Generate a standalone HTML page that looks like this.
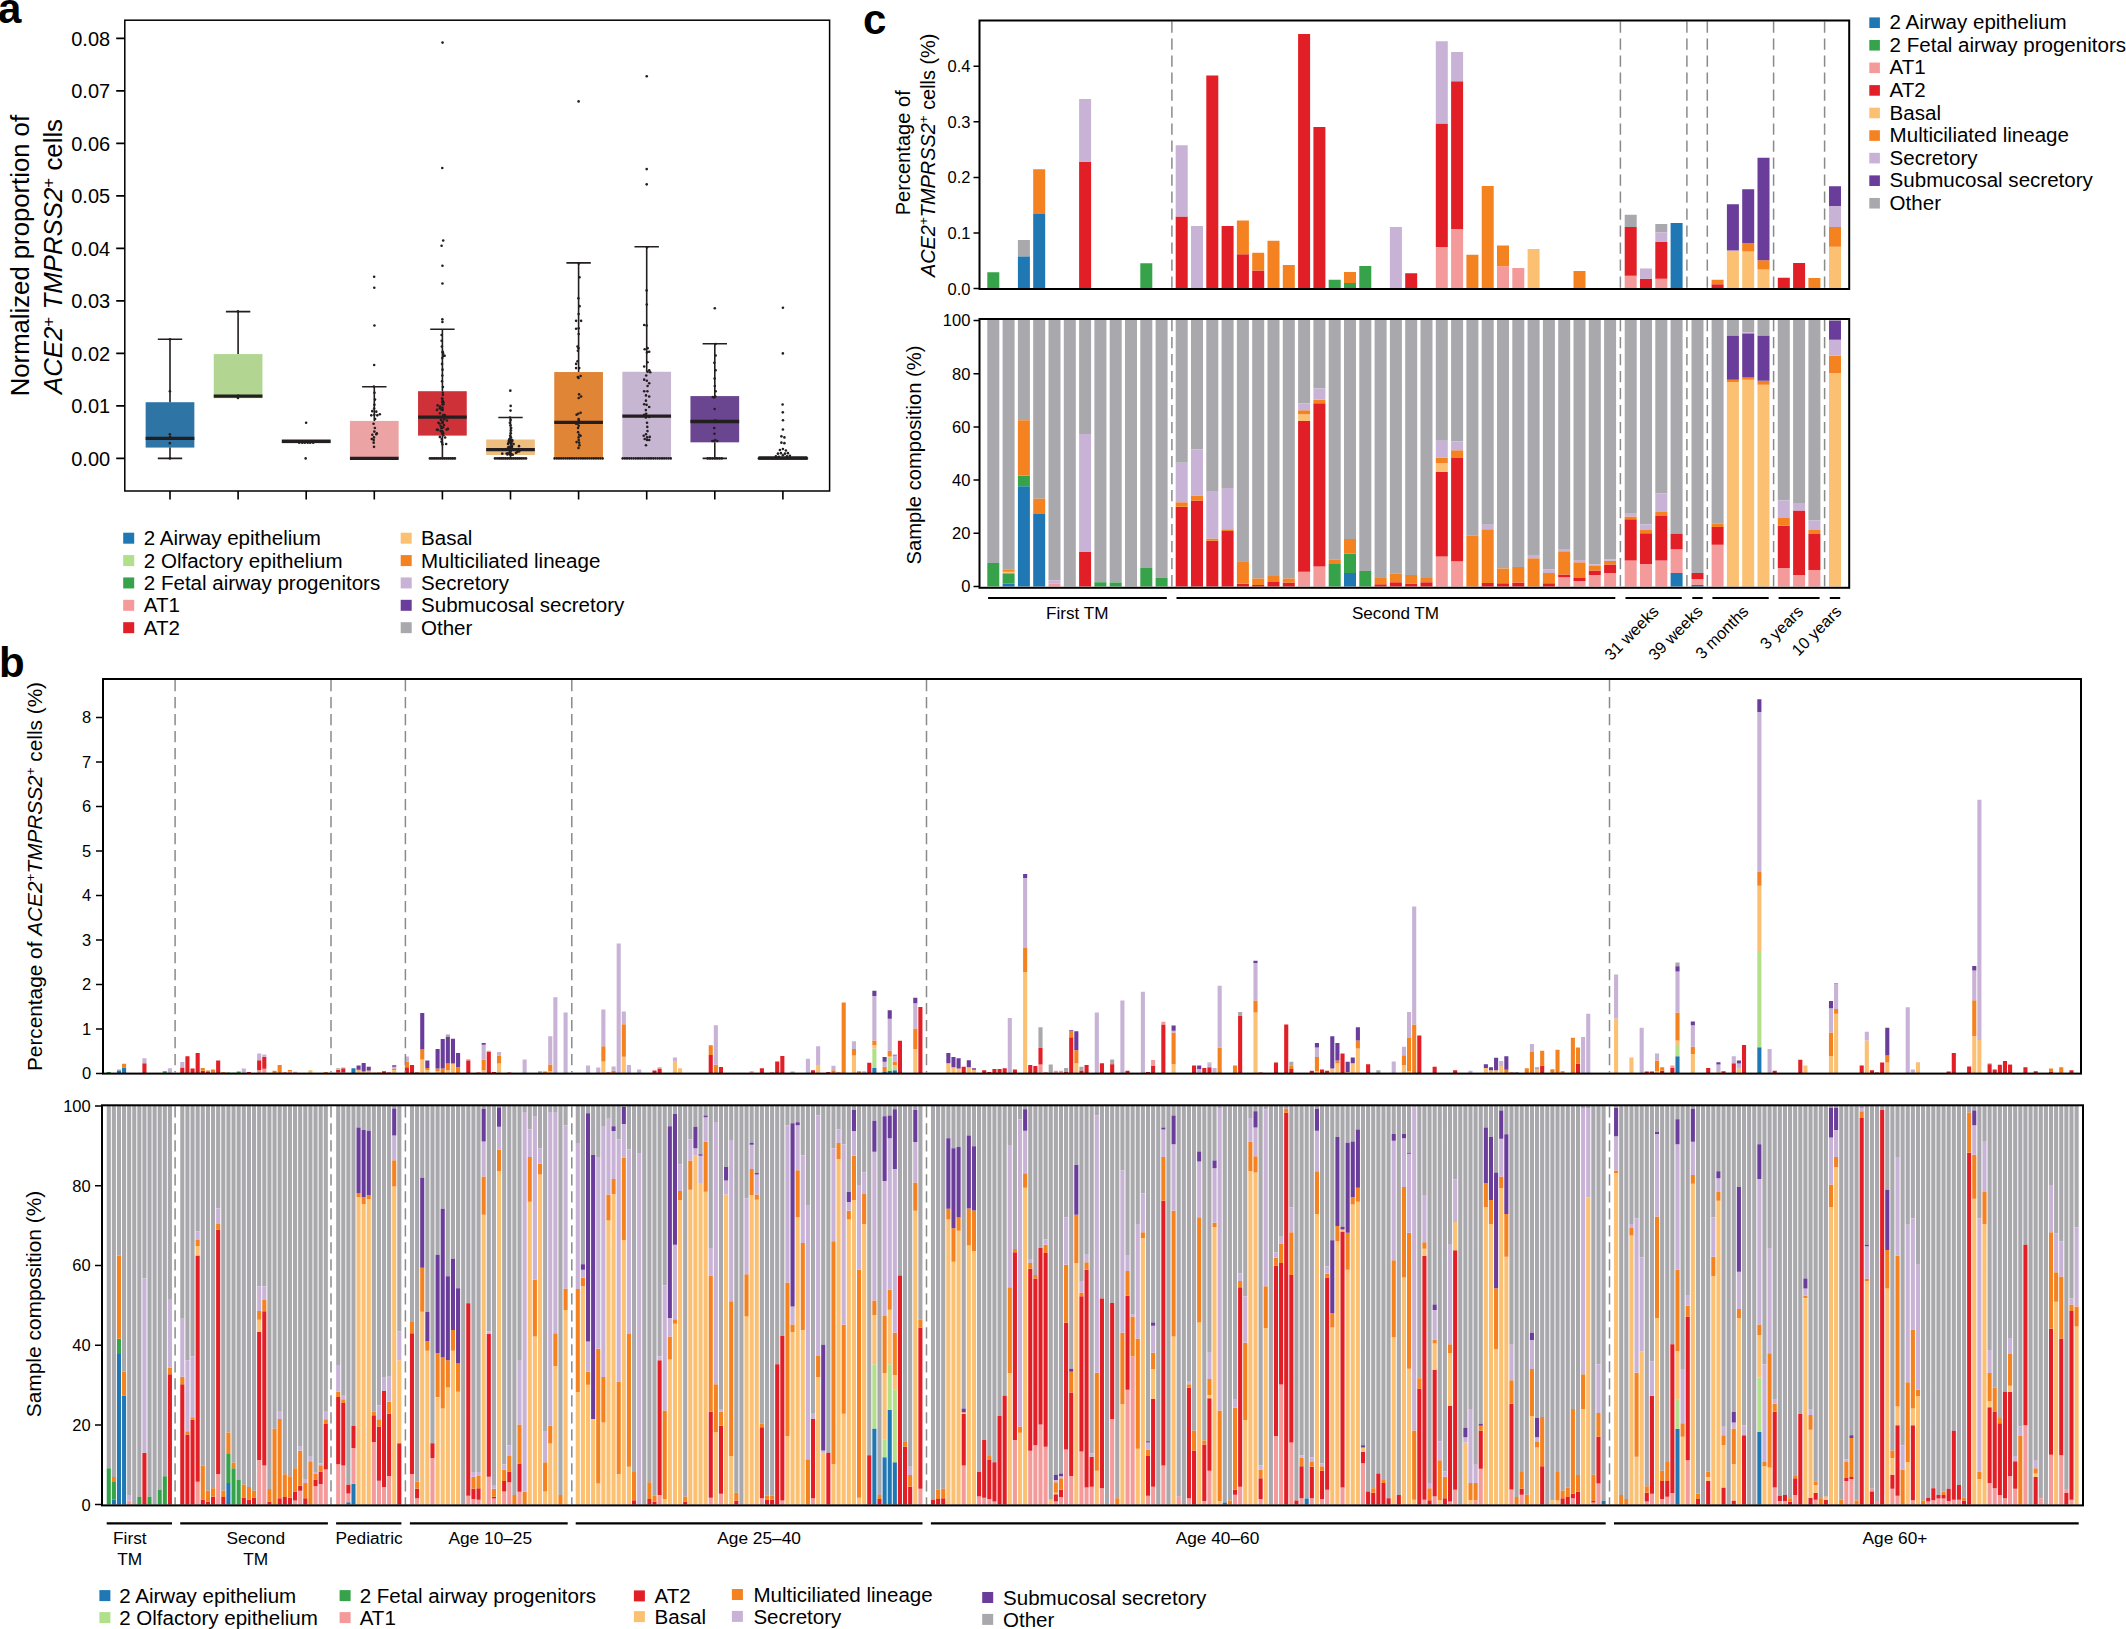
<!DOCTYPE html>
<html lang="en"><head><meta charset="utf-8"><title>Figure</title><style>html,body{margin:0;padding:0;background:#fff}svg{display:block}svg text{font-family:"Liberation Sans",Arial,Helvetica,sans-serif}</style></head><body>
<svg width="2126" height="1629" viewBox="0 0 2126 1629" fill="#000">
<rect width="2126" height="1629" fill="#fff"/>
<rect x="145.65" y="402.22" width="48.7" height="45.36" fill="#2e75a5"/>
<rect x="213.75" y="354.08" width="48.7" height="44.1" fill="#b2d692"/>
<rect x="281.85" y="439.5" width="48.7" height="3.67" fill="#419851"/>
<rect x="349.95" y="420.91" width="48.7" height="37.49" fill="#eca3a4"/>
<rect x="418.05" y="391.2" width="48.7" height="44.41" fill="#ce3238"/>
<rect x="486.15" y="439.5" width="48.7" height="15.49" fill="#eebe81"/>
<rect x="554.25" y="372.04" width="48.7" height="86.36" fill="#e08435"/>
<rect x="622.35" y="371.77" width="48.7" height="86.62" fill="#c7b6d2"/>
<rect x="690.45" y="396.08" width="48.7" height="46.25" fill="#6a4691"/>
<rect x="758.55" y="456.93" width="48.7" height="1.47" fill="#a9a9ad"/>
<path d="M170 402.22V339.22M157.8 339.22h24.4M170 447.58V458.4M157.8 458.4h24.4M238.1 354.08V311.61M225.9 311.61h24.4M374.3 420.91V386.68M362.1 386.68h24.4M442.4 391.2V329.25M430.2 329.25h24.4M442.4 435.61V458.4M430.2 458.4h24.4M510.5 439.5V417.45M498.3 417.45h24.4M510.5 454.99V458.4M498.3 458.4h24.4M578.6 372.04V262.84M566.4 262.84h24.4M646.7 371.77V246.82M634.5 246.82h24.4M714.8 396.08V343.79M702.6 343.79h24.4M714.8 442.33V458.4M702.6 458.4h24.4" fill="none" stroke="#231f20" stroke-width="1.6"/>
<path d="M145.65 438.45h48.7M213.75 396.19h48.7M281.85 441.28h48.7M349.95 458.4h48.7M418.05 417.13h48.7M486.15 449.58h48.7M554.25 422.33h48.7M622.35 416.08h48.7M690.45 421.49h48.7M758.55 457.98h48.7" fill="none" stroke="#231f20" stroke-width="3.3"/>
<g fill="#231f20"><circle cx="169.93" cy="391.2" r="1.3"/><circle cx="169.86" cy="434.25" r="1.3"/><circle cx="170.06" cy="436.88" r="1.3"/><circle cx="169.83" cy="443.17" r="1.3"/><circle cx="170.01" cy="339.22" r="1.3"/><circle cx="169.95" cy="458.4" r="1.3"/><circle cx="237.92" cy="398.02" r="1.3"/><circle cx="238.1" cy="395.92" r="1.3"/><circle cx="237.91" cy="311.4" r="1.3"/><circle cx="306.12" cy="422.7" r="1.3"/><circle cx="305.68" cy="458.4" r="1.3"/><circle cx="299.2" cy="442.65" r="1.3"/><circle cx="302.2" cy="442.65" r="1.3"/><circle cx="304.7" cy="442.65" r="1.3"/><circle cx="307.7" cy="442.65" r="1.3"/><circle cx="310.2" cy="442.65" r="1.3"/><circle cx="313.2" cy="442.65" r="1.3"/><circle cx="374.14" cy="276.75" r="1.3"/><circle cx="374.27" cy="287.77" r="1.3"/><circle cx="374.43" cy="325.57" r="1.3"/><circle cx="374.15" cy="364.95" r="1.3"/><circle cx="373.86" cy="386.47" r="1.3"/><circle cx="374.5" cy="392.77" r="1.3"/><circle cx="375.02" cy="399.6" r="1.3"/><circle cx="374.42" cy="404.85" r="1.3"/><circle cx="374.13" cy="408.52" r="1.3"/><circle cx="375.06" cy="419.02" r="1.3"/><circle cx="373.57" cy="423.75" r="1.3"/><circle cx="374.87" cy="427.95" r="1.3"/><circle cx="373.96" cy="437.4" r="1.3"/><circle cx="373.73" cy="440.02" r="1.3"/><circle cx="373.69" cy="442.65" r="1.3"/><circle cx="373.99" cy="446.85" r="1.3"/><circle cx="371.3" cy="415.35" r="1.3"/><circle cx="374.3" cy="414.82" r="1.3"/><circle cx="377.3" cy="415.35" r="1.3"/><circle cx="379.8" cy="414.3" r="1.3"/><circle cx="372.3" cy="411.15" r="1.3"/><circle cx="376.3" cy="411.67" r="1.3"/><circle cx="372.3" cy="434.77" r="1.3"/><circle cx="376.3" cy="434.25" r="1.3"/><circle cx="371.8" cy="438.97" r="1.3"/><circle cx="376.8" cy="433.2" r="1.3"/><circle cx="374.3" cy="431.62" r="1.3"/><circle cx="442.53" cy="42.6" r="1.3"/><circle cx="442.27" cy="168.07" r="1.3"/><circle cx="442.43" cy="265.72" r="1.3"/><circle cx="442.46" cy="283.57" r="1.3"/><circle cx="442.35" cy="319.27" r="1.3"/><circle cx="442.42" cy="321.9" r="1.3"/><circle cx="443.2" cy="240.52" r="1.3"/><circle cx="441.6" cy="245.77" r="1.3"/><circle cx="429.9" cy="458.4" r="1.3"/><circle cx="431.98" cy="458.4" r="1.3"/><circle cx="434.07" cy="458.4" r="1.3"/><circle cx="436.15" cy="458.4" r="1.3"/><circle cx="438.23" cy="458.4" r="1.3"/><circle cx="440.32" cy="458.4" r="1.3"/><circle cx="442.4" cy="458.4" r="1.3"/><circle cx="444.48" cy="458.4" r="1.3"/><circle cx="446.57" cy="458.4" r="1.3"/><circle cx="448.65" cy="458.4" r="1.3"/><circle cx="450.73" cy="458.4" r="1.3"/><circle cx="452.82" cy="458.4" r="1.3"/><circle cx="454.9" cy="458.4" r="1.3"/><circle cx="441.61" cy="335.02" r="1.3"/><circle cx="441.61" cy="340.8" r="1.3"/><circle cx="441.87" cy="346.57" r="1.3"/><circle cx="442.72" cy="352.35" r="1.3"/><circle cx="442.27" cy="358.12" r="1.3"/><circle cx="442.07" cy="363.9" r="1.3"/><circle cx="442.55" cy="369.67" r="1.3"/><circle cx="442.32" cy="375.45" r="1.3"/><circle cx="442.04" cy="381.22" r="1.3"/><circle cx="442.93" cy="387" r="1.3"/><circle cx="442.76" cy="392.77" r="1.3"/><circle cx="441.94" cy="398.55" r="1.3"/><circle cx="442.53" cy="404.32" r="1.3"/><circle cx="442.45" cy="410.1" r="1.3"/><circle cx="443.08" cy="415.88" r="1.3"/><circle cx="442.81" cy="421.65" r="1.3"/><circle cx="442.02" cy="427.42" r="1.3"/><circle cx="443.26" cy="433.2" r="1.3"/><circle cx="441.71" cy="438.97" r="1.3"/><circle cx="442.48" cy="431.91" r="1.3"/><circle cx="440.68" cy="430.98" r="1.3"/><circle cx="439.89" cy="436.89" r="1.3"/><circle cx="437.96" cy="429.88" r="1.3"/><circle cx="440.6" cy="425.91" r="1.3"/><circle cx="446.66" cy="429.6" r="1.3"/><circle cx="436.87" cy="429.79" r="1.3"/><circle cx="443.96" cy="425" r="1.3"/><circle cx="441.85" cy="431.18" r="1.3"/><circle cx="441.49" cy="428.19" r="1.3"/><circle cx="447.97" cy="428.91" r="1.3"/><circle cx="442.16" cy="433.66" r="1.3"/><circle cx="442.09" cy="432.34" r="1.3"/><circle cx="441.84" cy="431.34" r="1.3"/><circle cx="443.18" cy="435.19" r="1.3"/><circle cx="443.1" cy="427.32" r="1.3"/><circle cx="442.44" cy="422.92" r="1.3"/><circle cx="444.79" cy="415.13" r="1.3"/><circle cx="439.52" cy="423.43" r="1.3"/><circle cx="443.35" cy="415" r="1.3"/><circle cx="443.67" cy="415.67" r="1.3"/><circle cx="440.94" cy="419.91" r="1.3"/><circle cx="446.91" cy="420.51" r="1.3"/><circle cx="438.38" cy="422.69" r="1.3"/><circle cx="442.6" cy="422.42" r="1.3"/><circle cx="444.14" cy="419.18" r="1.3"/><circle cx="442.38" cy="407.59" r="1.3"/><circle cx="442.62" cy="409.38" r="1.3"/><circle cx="436.97" cy="409.9" r="1.3"/><circle cx="440" cy="406.52" r="1.3"/><circle cx="439.74" cy="408.36" r="1.3"/><circle cx="439.97" cy="413.21" r="1.3"/><circle cx="443.32" cy="404.33" r="1.3"/><circle cx="437.6" cy="405.4" r="1.3"/><circle cx="441.5" cy="409.66" r="1.3"/><circle cx="442.9" cy="394.95" r="1.3"/><circle cx="443.52" cy="402.46" r="1.3"/><circle cx="442.91" cy="401.14" r="1.3"/><circle cx="442.44" cy="398.81" r="1.3"/><circle cx="442.41" cy="401.29" r="1.3"/><circle cx="442.13" cy="401.94" r="1.3"/><circle cx="442.67" cy="351.76" r="1.3"/><circle cx="443.13" cy="353.81" r="1.3"/><circle cx="443.38" cy="355.91" r="1.3"/><circle cx="444.63" cy="355.78" r="1.3"/><circle cx="445.11" cy="437.45" r="1.3"/><circle cx="441.56" cy="441.61" r="1.3"/><circle cx="442.49" cy="444.47" r="1.3"/><circle cx="442.05" cy="442.58" r="1.3"/><circle cx="446.14" cy="444" r="1.3"/><circle cx="510.31" cy="390.67" r="1.3"/><circle cx="510.68" cy="405.9" r="1.3"/><circle cx="510.51" cy="410.62" r="1.3"/><circle cx="495" cy="458.4" r="1.3"/><circle cx="497.07" cy="458.4" r="1.3"/><circle cx="499.13" cy="458.4" r="1.3"/><circle cx="501.2" cy="458.4" r="1.3"/><circle cx="503.27" cy="458.4" r="1.3"/><circle cx="505.33" cy="458.4" r="1.3"/><circle cx="507.4" cy="458.4" r="1.3"/><circle cx="509.47" cy="458.4" r="1.3"/><circle cx="511.53" cy="458.4" r="1.3"/><circle cx="513.6" cy="458.4" r="1.3"/><circle cx="515.67" cy="458.4" r="1.3"/><circle cx="517.73" cy="458.4" r="1.3"/><circle cx="519.8" cy="458.4" r="1.3"/><circle cx="521.87" cy="458.4" r="1.3"/><circle cx="523.93" cy="458.4" r="1.3"/><circle cx="526" cy="458.4" r="1.3"/><circle cx="510.01" cy="417.45" r="1.3"/><circle cx="510.56" cy="420.07" r="1.3"/><circle cx="509.84" cy="422.7" r="1.3"/><circle cx="510.54" cy="425.32" r="1.3"/><circle cx="511.17" cy="427.95" r="1.3"/><circle cx="511.01" cy="430.57" r="1.3"/><circle cx="510.77" cy="433.2" r="1.3"/><circle cx="510.17" cy="435.82" r="1.3"/><circle cx="510.31" cy="438.45" r="1.3"/><circle cx="510.03" cy="441.07" r="1.3"/><circle cx="510.88" cy="443.7" r="1.3"/><circle cx="510.55" cy="446.32" r="1.3"/><circle cx="510.89" cy="448.95" r="1.3"/><circle cx="510.26" cy="451.57" r="1.3"/><circle cx="510.11" cy="454.2" r="1.3"/><circle cx="517.32" cy="451.94" r="1.3"/><circle cx="509.85" cy="451.97" r="1.3"/><circle cx="510.34" cy="451.91" r="1.3"/><circle cx="508" cy="453.33" r="1.3"/><circle cx="511.32" cy="454.09" r="1.3"/><circle cx="510.65" cy="454.45" r="1.3"/><circle cx="507.4" cy="454.55" r="1.3"/><circle cx="502.3" cy="453.66" r="1.3"/><circle cx="519.19" cy="451.35" r="1.3"/><circle cx="509.85" cy="454.05" r="1.3"/><circle cx="510.84" cy="454.73" r="1.3"/><circle cx="512.79" cy="454.81" r="1.3"/><circle cx="515.93" cy="452.83" r="1.3"/><circle cx="506.57" cy="453.51" r="1.3"/><circle cx="510.81" cy="448.31" r="1.3"/><circle cx="509.54" cy="448.28" r="1.3"/><circle cx="511.31" cy="447.23" r="1.3"/><circle cx="506.58" cy="449.04" r="1.3"/><circle cx="511.03" cy="450.3" r="1.3"/><circle cx="508.41" cy="447.69" r="1.3"/><circle cx="508.57" cy="446.97" r="1.3"/><circle cx="511.98" cy="447.07" r="1.3"/><circle cx="511.3" cy="443.04" r="1.3"/><circle cx="511.96" cy="446.06" r="1.3"/><circle cx="511.13" cy="442.1" r="1.3"/><circle cx="508.81" cy="442.51" r="1.3"/><circle cx="508.86" cy="441.7" r="1.3"/><circle cx="508.02" cy="443.97" r="1.3"/><circle cx="518.98" cy="446.16" r="1.3"/><circle cx="511.26" cy="443.44" r="1.3"/><circle cx="513.62" cy="444.09" r="1.3"/><circle cx="509.12" cy="442.27" r="1.3"/><circle cx="510.91" cy="437.26" r="1.3"/><circle cx="512.13" cy="440.06" r="1.3"/><circle cx="509.04" cy="440.34" r="1.3"/><circle cx="509.62" cy="439.4" r="1.3"/><circle cx="512.24" cy="440.91" r="1.3"/><circle cx="509.4" cy="439.19" r="1.3"/><circle cx="578.6" cy="101.4" r="1.3"/><circle cx="554.6" cy="458.4" r="1.3"/><circle cx="556.78" cy="458.4" r="1.3"/><circle cx="558.96" cy="458.4" r="1.3"/><circle cx="561.15" cy="458.4" r="1.3"/><circle cx="563.33" cy="458.4" r="1.3"/><circle cx="565.51" cy="458.4" r="1.3"/><circle cx="567.69" cy="458.4" r="1.3"/><circle cx="569.87" cy="458.4" r="1.3"/><circle cx="572.05" cy="458.4" r="1.3"/><circle cx="574.24" cy="458.4" r="1.3"/><circle cx="576.42" cy="458.4" r="1.3"/><circle cx="578.6" cy="458.4" r="1.3"/><circle cx="580.78" cy="458.4" r="1.3"/><circle cx="582.96" cy="458.4" r="1.3"/><circle cx="585.15" cy="458.4" r="1.3"/><circle cx="587.33" cy="458.4" r="1.3"/><circle cx="589.51" cy="458.4" r="1.3"/><circle cx="591.69" cy="458.4" r="1.3"/><circle cx="593.87" cy="458.4" r="1.3"/><circle cx="596.05" cy="458.4" r="1.3"/><circle cx="598.24" cy="458.4" r="1.3"/><circle cx="600.42" cy="458.4" r="1.3"/><circle cx="602.6" cy="458.4" r="1.3"/><circle cx="578.78" cy="263.62" r="1.3"/><circle cx="579.49" cy="277.27" r="1.3"/><circle cx="578.43" cy="298.27" r="1.3"/><circle cx="579.52" cy="306.15" r="1.3"/><circle cx="578.6" cy="314.02" r="1.3"/><circle cx="578.67" cy="328.2" r="1.3"/><circle cx="578.65" cy="333.97" r="1.3"/><circle cx="577.54" cy="346.57" r="1.3"/><circle cx="578.47" cy="348.15" r="1.3"/><circle cx="577.9" cy="350.77" r="1.3"/><circle cx="577.51" cy="361.27" r="1.3"/><circle cx="579.26" cy="368.1" r="1.3"/><circle cx="577.88" cy="377.02" r="1.3"/><circle cx="578.54" cy="378.07" r="1.3"/><circle cx="579.1" cy="394.35" r="1.3"/><circle cx="578.72" cy="398.02" r="1.3"/><circle cx="578.22" cy="413.77" r="1.3"/><circle cx="578.64" cy="419.02" r="1.3"/><circle cx="578.72" cy="420.6" r="1.3"/><circle cx="579.23" cy="422.17" r="1.3"/><circle cx="577.73" cy="423.75" r="1.3"/><circle cx="578.73" cy="425.85" r="1.3"/><circle cx="578.05" cy="427.95" r="1.3"/><circle cx="578.11" cy="432.15" r="1.3"/><circle cx="579.2" cy="434.77" r="1.3"/><circle cx="578.62" cy="437.4" r="1.3"/><circle cx="578.74" cy="440.02" r="1.3"/><circle cx="579.17" cy="442.65" r="1.3"/><circle cx="579.51" cy="445.27" r="1.3"/><circle cx="578.48" cy="447.9" r="1.3"/><circle cx="576.1" cy="320.85" r="1.3"/><circle cx="576.1" cy="328.72" r="1.3"/><circle cx="576.1" cy="363.9" r="1.3"/><circle cx="576.1" cy="368.1" r="1.3"/><circle cx="581.1" cy="320.85" r="1.3"/><circle cx="580.6" cy="375.97" r="1.3"/><circle cx="581.1" cy="396.45" r="1.3"/><circle cx="580.6" cy="412.72" r="1.3"/><circle cx="576.6" cy="414.82" r="1.3"/><circle cx="581.1" cy="422.7" r="1.3"/><circle cx="576.1" cy="423.75" r="1.3"/><circle cx="580.6" cy="435.82" r="1.3"/><circle cx="576.6" cy="442.12" r="1.3"/><circle cx="646.75" cy="76.2" r="1.3"/><circle cx="646.7" cy="169.12" r="1.3"/><circle cx="646.7" cy="184.35" r="1.3"/><circle cx="622.7" cy="458.4" r="1.3"/><circle cx="624.88" cy="458.4" r="1.3"/><circle cx="627.06" cy="458.4" r="1.3"/><circle cx="629.25" cy="458.4" r="1.3"/><circle cx="631.43" cy="458.4" r="1.3"/><circle cx="633.61" cy="458.4" r="1.3"/><circle cx="635.79" cy="458.4" r="1.3"/><circle cx="637.97" cy="458.4" r="1.3"/><circle cx="640.15" cy="458.4" r="1.3"/><circle cx="642.34" cy="458.4" r="1.3"/><circle cx="644.52" cy="458.4" r="1.3"/><circle cx="646.7" cy="458.4" r="1.3"/><circle cx="648.88" cy="458.4" r="1.3"/><circle cx="651.06" cy="458.4" r="1.3"/><circle cx="653.25" cy="458.4" r="1.3"/><circle cx="655.43" cy="458.4" r="1.3"/><circle cx="657.61" cy="458.4" r="1.3"/><circle cx="659.79" cy="458.4" r="1.3"/><circle cx="661.97" cy="458.4" r="1.3"/><circle cx="664.15" cy="458.4" r="1.3"/><circle cx="666.34" cy="458.4" r="1.3"/><circle cx="668.52" cy="458.4" r="1.3"/><circle cx="670.7" cy="458.4" r="1.3"/><circle cx="647.09" cy="247.35" r="1.3"/><circle cx="646.6" cy="290.4" r="1.3"/><circle cx="646.77" cy="304.57" r="1.3"/><circle cx="646.66" cy="325.57" r="1.3"/><circle cx="647.58" cy="348.15" r="1.3"/><circle cx="647.1" cy="352.35" r="1.3"/><circle cx="647.45" cy="362.32" r="1.3"/><circle cx="647.58" cy="371.77" r="1.3"/><circle cx="646.22" cy="375.45" r="1.3"/><circle cx="646.82" cy="380.7" r="1.3"/><circle cx="647.59" cy="385.95" r="1.3"/><circle cx="647.38" cy="391.2" r="1.3"/><circle cx="645.97" cy="395.4" r="1.3"/><circle cx="645.94" cy="400.65" r="1.3"/><circle cx="646.58" cy="404.85" r="1.3"/><circle cx="645.85" cy="410.1" r="1.3"/><circle cx="646.18" cy="413.77" r="1.3"/><circle cx="645.85" cy="417.45" r="1.3"/><circle cx="647.04" cy="422.7" r="1.3"/><circle cx="647.27" cy="426.9" r="1.3"/><circle cx="647.49" cy="431.1" r="1.3"/><circle cx="646.01" cy="434.25" r="1.3"/><circle cx="647.13" cy="437.4" r="1.3"/><circle cx="647.02" cy="440.02" r="1.3"/><circle cx="645.99" cy="445.27" r="1.3"/><circle cx="644.2" cy="325.05" r="1.3"/><circle cx="644.7" cy="349.2" r="1.3"/><circle cx="649.2" cy="351.82" r="1.3"/><circle cx="644.2" cy="366.52" r="1.3"/><circle cx="649.2" cy="370.2" r="1.3"/><circle cx="650.2" cy="372.3" r="1.3"/><circle cx="644.2" cy="379.65" r="1.3"/><circle cx="649.2" cy="383.32" r="1.3"/><circle cx="644.2" cy="391.2" r="1.3"/><circle cx="649.2" cy="396.45" r="1.3"/><circle cx="644.2" cy="404.32" r="1.3"/><circle cx="649.2" cy="406.95" r="1.3"/><circle cx="644.2" cy="414.82" r="1.3"/><circle cx="649.2" cy="416.92" r="1.3"/><circle cx="643.7" cy="435.82" r="1.3"/><circle cx="649.7" cy="436.88" r="1.3"/><circle cx="644.7" cy="438.97" r="1.3"/><circle cx="649.2" cy="440.02" r="1.3"/><circle cx="714.8" cy="308.25" r="1.3"/><circle cx="707.8" cy="458.4" r="1.3"/><circle cx="710.13" cy="458.4" r="1.3"/><circle cx="712.47" cy="458.4" r="1.3"/><circle cx="714.8" cy="458.4" r="1.3"/><circle cx="717.13" cy="458.4" r="1.3"/><circle cx="719.47" cy="458.4" r="1.3"/><circle cx="721.8" cy="458.4" r="1.3"/><circle cx="715.49" cy="343.95" r="1.3"/><circle cx="715.64" cy="355.5" r="1.3"/><circle cx="714.3" cy="362.85" r="1.3"/><circle cx="715.61" cy="370.2" r="1.3"/><circle cx="714.62" cy="378.6" r="1.3"/><circle cx="714.78" cy="385.95" r="1.3"/><circle cx="715.68" cy="391.2" r="1.3"/><circle cx="715.4" cy="396.45" r="1.3"/><circle cx="714.19" cy="397.5" r="1.3"/><circle cx="714.68" cy="409.05" r="1.3"/><circle cx="714.83" cy="420.6" r="1.3"/><circle cx="714.51" cy="421.65" r="1.3"/><circle cx="714.25" cy="427.95" r="1.3"/><circle cx="714.47" cy="433.72" r="1.3"/><circle cx="715.2" cy="440.02" r="1.3"/><circle cx="713.94" cy="441.07" r="1.3"/><circle cx="712.3" cy="441.07" r="1.3"/><circle cx="717.3" cy="441.07" r="1.3"/><circle cx="712.8" cy="396.97" r="1.3"/><circle cx="716.8" cy="421.12" r="1.3"/><circle cx="782.93" cy="307.72" r="1.3"/><circle cx="782.86" cy="353.4" r="1.3"/><circle cx="782.61" cy="404.53" r="1.3"/><circle cx="782.8" cy="412.36" r="1.3"/><circle cx="782.97" cy="420.28" r="1.3"/><circle cx="782.91" cy="429.52" r="1.3"/><circle cx="781.4" cy="436.35" r="1.3"/><circle cx="784.4" cy="437.4" r="1.3"/><circle cx="781.4" cy="442.65" r="1.3"/><circle cx="784.4" cy="443.17" r="1.3"/><circle cx="782.9" cy="448.95" r="1.3"/><circle cx="779.9" cy="450" r="1.3"/><circle cx="785.9" cy="450.52" r="1.3"/><circle cx="777.9" cy="453.67" r="1.3"/><circle cx="780.9" cy="453.15" r="1.3"/><circle cx="784.9" cy="453.67" r="1.3"/><circle cx="787.9" cy="453.15" r="1.3"/><circle cx="775.9" cy="456.3" r="1.3"/><circle cx="789.9" cy="455.77" r="1.3"/><circle cx="782.9" cy="455.25" r="1.3"/><circle cx="778.9" cy="456.82" r="1.3"/><circle cx="786.9" cy="456.3" r="1.3"/><circle cx="758.9" cy="458.4" r="1.3"/><circle cx="760.56" cy="458.4" r="1.3"/><circle cx="762.21" cy="458.4" r="1.3"/><circle cx="763.87" cy="458.4" r="1.3"/><circle cx="765.52" cy="458.4" r="1.3"/><circle cx="767.18" cy="458.4" r="1.3"/><circle cx="768.83" cy="458.4" r="1.3"/><circle cx="770.49" cy="458.4" r="1.3"/><circle cx="772.14" cy="458.4" r="1.3"/><circle cx="773.8" cy="458.4" r="1.3"/><circle cx="775.45" cy="458.4" r="1.3"/><circle cx="777.11" cy="458.4" r="1.3"/><circle cx="778.76" cy="458.4" r="1.3"/><circle cx="780.42" cy="458.4" r="1.3"/><circle cx="782.07" cy="458.4" r="1.3"/><circle cx="783.73" cy="458.4" r="1.3"/><circle cx="785.38" cy="458.4" r="1.3"/><circle cx="787.04" cy="458.4" r="1.3"/><circle cx="788.69" cy="458.4" r="1.3"/><circle cx="790.35" cy="458.4" r="1.3"/><circle cx="792" cy="458.4" r="1.3"/><circle cx="793.66" cy="458.4" r="1.3"/><circle cx="795.31" cy="458.4" r="1.3"/><circle cx="796.97" cy="458.4" r="1.3"/><circle cx="798.62" cy="458.4" r="1.3"/><circle cx="800.28" cy="458.4" r="1.3"/><circle cx="801.93" cy="458.4" r="1.3"/><circle cx="803.59" cy="458.4" r="1.3"/><circle cx="805.24" cy="458.4" r="1.3"/><circle cx="806.9" cy="458.4" r="1.3"/></g>
<rect x="124.8" y="20.2" width="704.8" height="470.8" fill="none" stroke="#000" stroke-width="1.5"/>
<path d="M124.8 458.4h-8.6M124.8 405.9h-8.6M124.8 353.4h-8.6M124.8 300.9h-8.6M124.8 248.4h-8.6M124.8 195.9h-8.6M124.8 143.4h-8.6M124.8 90.9h-8.6M124.8 38.4h-8.6M170 491v8.6M238.1 491v8.6M306.2 491v8.6M374.3 491v8.6M442.4 491v8.6M510.5 491v8.6M578.6 491v8.6M646.7 491v8.6M714.8 491v8.6M782.9 491v8.6" fill="none" stroke="#000" stroke-width="1.6"/>
<text x="110.2" y="465.6" font-size="20" text-anchor="end">0.00</text>
<text x="110.2" y="413.1" font-size="20" text-anchor="end">0.01</text>
<text x="110.2" y="360.6" font-size="20" text-anchor="end">0.02</text>
<text x="110.2" y="308.1" font-size="20" text-anchor="end">0.03</text>
<text x="110.2" y="255.6" font-size="20" text-anchor="end">0.04</text>
<text x="110.2" y="203.1" font-size="20" text-anchor="end">0.05</text>
<text x="110.2" y="150.6" font-size="20" text-anchor="end">0.06</text>
<text x="110.2" y="98.1" font-size="20" text-anchor="end">0.07</text>
<text x="110.2" y="45.6" font-size="20" text-anchor="end">0.08</text>
<text x="29.5" y="255.6" font-size="25.7" text-anchor="middle" transform="rotate(-90 29.5 255.6)">Normalized proportion of</text>
<text x="61.3" y="257" font-size="25.8" text-anchor="middle" transform="rotate(-90 61.3 256.5)"><tspan font-style="italic">ACE2</tspan><tspan font-size="17" dy="-8">+</tspan><tspan dy="8" font-style="italic"> TMPRSS2</tspan><tspan font-size="17" dy="-8">+</tspan><tspan dy="8"> cells</tspan></text>
<text x="-2" y="22.6" font-size="42" font-weight="bold">a</text>
<rect x="123.2" y="532.7" width="11" height="11" fill="#1f78b4"/>
<text x="143.8" y="545.3" font-size="20.55">2 Airway epithelium</text>
<rect x="123.2" y="555.07" width="11" height="11" fill="#b2df8a"/>
<text x="143.8" y="567.67" font-size="20.55">2 Olfactory epithelium</text>
<rect x="123.2" y="577.44" width="11" height="11" fill="#36a34a"/>
<text x="143.8" y="590.04" font-size="20.55">2 Fetal airway progenitors</text>
<rect x="123.2" y="599.81" width="11" height="11" fill="#f59a9b"/>
<text x="143.8" y="612.41" font-size="20.55">AT1</text>
<rect x="123.2" y="622.18" width="11" height="11" fill="#e21f26"/>
<text x="143.8" y="634.78" font-size="20.55">AT2</text>
<rect x="400.7" y="532.7" width="11" height="11" fill="#fcc073"/>
<text x="421" y="545.3" font-size="20.55">Basal</text>
<rect x="400.7" y="555.07" width="11" height="11" fill="#f58220"/>
<text x="421" y="567.67" font-size="20.55">Multiciliated lineage</text>
<rect x="400.7" y="577.44" width="11" height="11" fill="#c8b2d6"/>
<text x="421" y="590.04" font-size="20.55">Secretory</text>
<rect x="400.7" y="599.81" width="11" height="11" fill="#6a3d9a"/>
<text x="421" y="612.41" font-size="20.55">Submucosal secretory</text>
<rect x="400.7" y="622.18" width="11" height="11" fill="#a9a9ad"/>
<text x="421" y="634.78" font-size="20.55">Other</text>
<path fill="#a9a9ad" d="M1017.9 240.12h12v16.35h-12zM1624.7 214.76h12v12.12h-12zM1655.3 223.88h12v8.56h-12z"/>
<path fill="#1f78b4" d="M1017.9 256.46h12v32.14h-12zM1033.2 214.1h12v74.5h-12zM1670.6 222.99h12v65.61h-12z"/>
<path fill="#36a34a" d="M987.3 272.25h12v16.35h-12zM1140.3 263.19h12v25.41h-12zM1328.7 279.7h12v8.9h-12zM1344 283.1h12v5.5h-12zM1359.3 266.08h12v22.52h-12z"/>
<path fill="#f59a9b" d="M1435.8 247.01h12v41.59h-12zM1451.1 228.94h12v59.66h-12zM1497 266.25h12v22.35h-12zM1512.3 267.97h12v20.63h-12zM1624.7 275.81h12v12.79h-12zM1655.3 278.87h12v9.73h-12z"/>
<path fill="#e21f26" d="M1079.1 161.94h12v126.66h-12zM1175.7 216.43h12v72.17h-12zM1206.3 75.49h12v213.11h-12zM1221.6 226.05h12v62.55h-12zM1236.9 254.24h12v34.36h-12zM1252.2 270.53h12v18.07h-12zM1298.1 33.9h12v254.7h-12zM1313.4 127.03h12v161.57h-12zM1405.2 273.31h12v15.29h-12zM1435.8 123.58h12v123.43h-12zM1451.1 81.16h12v147.78h-12zM1624.7 226.88h12v48.93h-12zM1640 278.87h12v9.73h-12zM1655.3 242.12h12v36.75h-12zM1711.6 284.32h12v4.28h-12zM1777.8 277.65h12v10.95h-12zM1793.1 263.08h12v25.52h-12z"/>
<path fill="#fcc073" d="M1527.6 249.07h12v39.53h-12zM1726.9 250.63h12v37.97h-12zM1742.2 251.51h12v37.09h-12zM1757.5 269.47h12v19.13h-12zM1829 246.68h12v41.92h-12z"/>
<path fill="#f58220" d="M1033.2 169.17h12v44.92h-12zM1236.9 220.55h12v33.69h-12zM1252.2 252.85h12v17.68h-12zM1267.5 240.67h12v47.93h-12zM1282.8 265.08h12v23.52h-12zM1344 271.92h12v11.18h-12zM1466.4 254.74h12v33.86h-12zM1481.7 186.02h12v102.58h-12zM1497 245.62h12v20.63h-12zM1573.5 270.97h12v17.63h-12zM1711.6 279.82h12v4.5h-12zM1742.2 243.01h12v8.51h-12zM1757.5 260.36h12v9.12h-12zM1808.4 278.04h12v10.56h-12zM1829 226.88h12v19.79h-12z"/>
<path fill="#c8b2d6" d="M1079.1 99h12v62.94h-12zM1175.7 145.15h12v71.28h-12zM1191 225.88h12v62.72h-12zM1389.9 226.88h12v61.72h-12zM1435.8 41.29h12v82.29h-12zM1451.1 51.91h12v29.25h-12zM1640 268.58h12v10.29h-12zM1655.3 232.44h12v9.67h-12zM1829 205.98h12v20.91h-12z"/>
<path fill="#6a3d9a" d="M1726.9 204.14h12v46.48h-12zM1742.2 189.24h12v53.77h-12zM1757.5 157.66h12v102.69h-12zM1829 186.3h12v19.68h-12z"/>
<path d="M1171.9 21.5V288M1620.4 21.5V288M1686.9 21.5V288M1707.3 21.5V288M1773.6 21.5V288M1824.6 21.5V288" fill="none" stroke="#8a8a8a" stroke-width="1.5" stroke-dasharray="11.2 5.8"/>
<rect x="979.5" y="20.5" width="869.7" height="268.5" fill="none" stroke="#000" stroke-width="2"/>
<path d="M979.5 288.6h-6M979.5 233h-6M979.5 177.4h-6M979.5 121.8h-6M979.5 66.2h-6" fill="none" stroke="#000" stroke-width="1.5"/>
<text x="970.4" y="294.5" font-size="16.5" text-anchor="end">0.0</text>
<text x="970.4" y="238.9" font-size="16.5" text-anchor="end">0.1</text>
<text x="970.4" y="183.3" font-size="16.5" text-anchor="end">0.2</text>
<text x="970.4" y="127.7" font-size="16.5" text-anchor="end">0.3</text>
<text x="970.4" y="72.1" font-size="16.5" text-anchor="end">0.4</text>
<text x="910.1" y="152.8" font-size="20.1" text-anchor="middle" transform="rotate(-90 910.1 152.8)">Percentage of</text>
<text x="934.6" y="155.3" font-size="19.9" text-anchor="middle" transform="rotate(-90 934.6 155.3)"><tspan font-style="italic">ACE2</tspan><tspan font-size="13.5" dy="-6.5">+</tspan><tspan dy="6.5" font-style="italic">TMPRSS2</tspan><tspan font-size="13.5" dy="-6.5">+</tspan><tspan dy="6.5"> cells (%)</tspan></text>
<path fill="#a9a9ad" d="M987.3 320h12v243.05h-12zM1002.6 320h12v249.71h-12zM1017.9 320h12v100.2h-12zM1033.2 320h12v178.82h-12zM1048.5 320h12v260.37h-12zM1063.8 320h12v266.5h-12zM1079.1 320h12v114.06h-12zM1094.4 320h12v262.24h-12zM1109.7 320h12v262.5h-12zM1125 320h12v266.5h-12zM1140.3 320h12v248.11h-12zM1155.6 320h12v257.71h-12zM1175.7 320h12v142.84h-12zM1191 320h12v129.52h-12zM1206.3 320h12v171.09h-12zM1221.6 320h12v167.89h-12zM1236.9 320h12v241.18h-12zM1252.2 320h12v258.5h-12zM1267.5 320h12v256.11h-12zM1282.8 320h12v258.5h-12zM1298.1 320h12v83.41h-12zM1313.4 320h12v68.49h-12zM1328.7 320h12v239.85h-12zM1344 320h12v219.06h-12zM1359.3 320h12v251.04h-12zM1374.6 320h12v257.17h-12zM1389.9 320h12v253.71h-12zM1405.2 320h12v255.04h-12zM1420.5 320h12v257.97h-12zM1435.8 320h12v120.72h-12zM1451.1 320h12v121.26h-12zM1466.4 320h12v215.87h-12zM1481.7 320h12v204.67h-12zM1497 320h12v248.38h-12zM1512.3 320h12v247.05h-12zM1527.6 320h12v235.05h-12zM1542.9 320h12v249.44h-12zM1558.2 320h12v228.92h-12zM1573.5 320h12v240.12h-12zM1588.8 320h12v244.38h-12zM1604.1 320h12v239.32h-12zM1624.7 320h12v193.75h-12zM1640 320h12v204.41h-12zM1655.3 320h12v173.23h-12zM1670.6 320h12v213.73h-12zM1691.5 320h12v252.91h-12zM1711.6 320h12v203.87h-12zM1726.9 320h12v15.72h-12zM1742.2 320h12v12.26h-12zM1757.5 320h12v15.72h-12zM1777.8 320h12v180.42h-12zM1793.1 320h12v183.09h-12zM1808.4 320h12v200.41h-12zM1829 320h12v0.8h-12z"/>
<path fill="#1f78b4" d="M1002.6 583.84h12v2.66h-12zM1017.9 486.3h12v100.2h-12zM1033.2 514.01h12v72.49h-12zM1344 572.91h12v13.59h-12zM1670.6 572.91h12v13.59h-12zM1691.5 584.9h12v1.6h-12z"/>
<path fill="#36a34a" d="M987.3 563.05h12v23.45h-12zM1002.6 573.17h12v10.66h-12zM1017.9 475.64h12v10.66h-12zM1094.4 582.24h12v4.26h-12zM1109.7 582.5h12v4h-12zM1140.3 568.11h12v18.39h-12zM1155.6 577.71h12v8.79h-12zM1328.7 563.31h12v23.19h-12zM1344 553.45h12v19.45h-12zM1359.3 571.04h12v15.46h-12z"/>
<path fill="#f59a9b" d="M1048.5 583.84h12v2.66h-12zM1298.1 571.84h12v14.66h-12zM1313.4 566.51h12v19.99h-12zM1435.8 556.39h12v30.11h-12zM1451.1 561.18h12v25.32h-12zM1558.2 577.17h12v9.33h-12zM1573.5 580.9h12v5.6h-12zM1588.8 575.04h12v11.46h-12zM1604.1 572.91h12v13.59h-12zM1624.7 560.38h12v26.12h-12zM1640 564.11h12v22.39h-12zM1655.3 560.38h12v26.12h-12zM1670.6 549.19h12v23.72h-12zM1691.5 579.04h12v5.86h-12zM1711.6 544.66h12v41.84h-12zM1777.8 568.11h12v18.39h-12zM1793.1 575.04h12v11.46h-12zM1808.4 569.98h12v16.52h-12z"/>
<path fill="#e21f26" d="M1079.1 552.12h12v34.38h-12zM1175.7 506.82h12v79.68h-12zM1191 500.42h12v86.08h-12zM1206.3 540.66h12v45.84h-12zM1221.6 531.07h12v55.43h-12zM1236.9 583.84h12v2.66h-12zM1252.2 584.9h12v1.6h-12zM1267.5 581.97h12v4.53h-12zM1282.8 582.5h12v4h-12zM1298.1 421h12v150.84h-12zM1313.4 403.15h12v163.36h-12zM1374.6 584.37h12v2.13h-12zM1389.9 582.24h12v4.26h-12zM1405.2 583.57h12v2.93h-12zM1420.5 582.24h12v4.26h-12zM1435.8 471.64h12v84.75h-12zM1451.1 458.05h12v103.14h-12zM1481.7 583.04h12v3.46h-12zM1497 583.3h12v3.2h-12zM1512.3 582.5h12v4h-12zM1542.9 583.3h12v3.2h-12zM1558.2 574.51h12v2.66h-12zM1573.5 577.97h12v2.93h-12zM1588.8 570.51h12v4.53h-12zM1604.1 564.38h12v8.53h-12zM1624.7 519.34h12v41.04h-12zM1640 533.2h12v30.91h-12zM1655.3 515.88h12v44.51h-12zM1670.6 533.73h12v15.46h-12zM1691.5 572.91h12v6.13h-12zM1711.6 527.07h12v17.59h-12zM1777.8 525.74h12v42.37h-12zM1793.1 510.55h12v64.49h-12zM1808.4 534h12v35.98h-12z"/>
<path fill="#fcc073" d="M1002.6 571.84h12v1.33h-12zM1298.1 414.34h12v6.66h-12zM1435.8 463.11h12v8.53h-12zM1726.9 382.09h12v204.41h-12zM1742.2 379.7h12v206.8h-12zM1757.5 384.76h12v201.74h-12zM1829 373.03h12v213.47h-12z"/>
<path fill="#f58220" d="M1002.6 569.71h12v2.13h-12zM1017.9 420.2h12v55.43h-12zM1033.2 498.82h12v15.19h-12zM1175.7 502.29h12v4.53h-12zM1191 495.62h12v4.8h-12zM1206.3 538.53h12v2.13h-12zM1221.6 529.2h12v1.87h-12zM1236.9 561.18h12v22.65h-12zM1252.2 578.5h12v6.4h-12zM1267.5 576.11h12v5.86h-12zM1282.8 578.5h12v4h-12zM1298.1 410.34h12v4h-12zM1313.4 399.68h12v3.46h-12zM1328.7 559.85h12v3.46h-12zM1344 539.06h12v14.39h-12zM1374.6 577.17h12v7.2h-12zM1389.9 573.71h12v8.53h-12zM1405.2 575.04h12v8.53h-12zM1420.5 577.97h12v4.26h-12zM1435.8 457.51h12v5.6h-12zM1451.1 450.32h12v7.73h-12zM1466.4 535.87h12v50.63h-12zM1481.7 529.2h12v53.83h-12zM1497 568.38h12v14.92h-12zM1512.3 567.05h12v15.46h-12zM1527.6 558.25h12v28.25h-12zM1542.9 572.91h12v10.39h-12zM1558.2 551.32h12v23.19h-12zM1573.5 562.25h12v15.72h-12zM1588.8 565.98h12v4.53h-12zM1604.1 560.65h12v3.73h-12zM1624.7 516.41h12v2.93h-12zM1640 530h12v3.2h-12zM1655.3 511.88h12v4h-12zM1711.6 523.87h12v3.2h-12zM1726.9 379.7h12v2.4h-12zM1742.2 377.56h12v2.13h-12zM1757.5 380.76h12v4h-12zM1777.8 518.01h12v7.73h-12zM1808.4 530h12v4h-12zM1829 355.71h12v17.32h-12z"/>
<path fill="#c8b2d6" d="M1048.5 580.37h12v3.46h-12zM1079.1 434.06h12v118.06h-12zM1175.7 462.84h12v39.44h-12zM1191 449.52h12v46.1h-12zM1206.3 491.09h12v47.44h-12zM1221.6 487.89h12v41.31h-12zM1298.1 403.41h12v6.93h-12zM1313.4 388.49h12v11.19h-12zM1435.8 440.72h12v16.79h-12zM1451.1 441.26h12v9.06h-12zM1481.7 524.67h12v4.53h-12zM1527.6 555.05h12v3.2h-12zM1542.9 569.44h12v3.46h-12zM1558.2 548.92h12v2.4h-12zM1573.5 560.12h12v2.13h-12zM1588.8 564.38h12v1.6h-12zM1604.1 559.32h12v1.33h-12zM1624.7 513.75h12v2.66h-12zM1640 524.41h12v5.6h-12zM1655.3 493.23h12v18.65h-12zM1742.2 332.26h12v1.33h-12zM1777.8 500.42h12v17.59h-12zM1793.1 503.09h12v7.46h-12zM1808.4 520.41h12v9.59h-12zM1829 339.72h12v15.99h-12z"/>
<path fill="#6a3d9a" d="M1726.9 335.72h12v43.97h-12zM1742.2 333.59h12v43.97h-12zM1757.5 335.72h12v45.04h-12zM1829 320.8h12v18.92h-12z"/>
<path d="M1171.9 320V586.8M1620.4 320V586.8M1686.9 320V586.8M1707.3 320V586.8M1773.6 320V586.8M1824.6 320V586.8" fill="none" stroke="#8a8a8a" stroke-width="1.5" stroke-dasharray="11.2 5.8"/>
<rect x="979.5" y="319" width="869.7" height="268.8" fill="none" stroke="#000" stroke-width="2"/>
<path d="M979.5 586.5h-6M979.5 533.3h-6M979.5 480.1h-6M979.5 426.9h-6M979.5 373.7h-6M979.5 320.5h-6" fill="none" stroke="#000" stroke-width="1.5"/>
<text x="970.4" y="592.4" font-size="16.5" text-anchor="end">0</text>
<text x="970.4" y="539.2" font-size="16.5" text-anchor="end">20</text>
<text x="970.4" y="486" font-size="16.5" text-anchor="end">40</text>
<text x="970.4" y="432.8" font-size="16.5" text-anchor="end">60</text>
<text x="970.4" y="379.6" font-size="16.5" text-anchor="end">80</text>
<text x="970.4" y="326.4" font-size="16.5" text-anchor="end">100</text>
<text x="920.5" y="455" font-size="20.2" text-anchor="middle" transform="rotate(-90 920.5 455)">Sample composition (%)</text>
<path d="M988.1 598H1166.8M1176.5 598H1615.3M1625.5 598H1681.8M1692.3 598H1702.7M1712.4 598H1768.7M1778.6 598H1819.6M1829.8 598H1840.2" fill="none" stroke="#000" stroke-width="2.2"/>
<text x="1077.3" y="618.5" font-size="17.1" text-anchor="middle">First TM</text>
<text x="1395.5" y="618.5" font-size="17.1" text-anchor="middle">Second TM</text>
<text x="1659.8" y="612.6" font-size="16.3" text-anchor="end" transform="rotate(-45 1659.8 612.6)">31 weeks</text>
<text x="1703.8" y="612.6" font-size="16.3" text-anchor="end" transform="rotate(-45 1703.8 612.6)">39 weeks</text>
<text x="1749.6" y="612.6" font-size="16.3" text-anchor="end" transform="rotate(-45 1749.6 612.6)">3 months</text>
<text x="1804.4" y="612.6" font-size="16.3" text-anchor="end" transform="rotate(-45 1804.4 612.6)">3 years</text>
<text x="1842.6" y="612.6" font-size="16.3" text-anchor="end" transform="rotate(-45 1842.6 612.6)">10 years</text>
<text x="863" y="33.6" font-size="42" font-weight="bold">c</text>
<rect x="1869.3" y="17.4" width="10.6" height="10.6" fill="#1f78b4"/>
<text x="1889.6" y="29.3" font-size="20.55">2 Airway epithelium</text>
<rect x="1869.3" y="39.97" width="10.6" height="10.6" fill="#36a34a"/>
<text x="1889.6" y="51.87" font-size="20.55">2 Fetal airway progenitors</text>
<rect x="1869.3" y="62.54" width="10.6" height="10.6" fill="#f59a9b"/>
<text x="1889.6" y="74.44" font-size="20.55">AT1</text>
<rect x="1869.3" y="85.11" width="10.6" height="10.6" fill="#e21f26"/>
<text x="1889.6" y="97.01" font-size="20.55">AT2</text>
<rect x="1869.3" y="107.68" width="10.6" height="10.6" fill="#fcc073"/>
<text x="1889.6" y="119.58" font-size="20.55">Basal</text>
<rect x="1869.3" y="130.25" width="10.6" height="10.6" fill="#f58220"/>
<text x="1889.6" y="142.15" font-size="20.55">Multiciliated lineage</text>
<rect x="1869.3" y="152.82" width="10.6" height="10.6" fill="#c8b2d6"/>
<text x="1889.6" y="164.72" font-size="20.55">Secretory</text>
<rect x="1869.3" y="175.39" width="10.6" height="10.6" fill="#6a3d9a"/>
<text x="1889.6" y="187.29" font-size="20.55">Submucosal secretory</text>
<rect x="1869.3" y="197.96" width="10.6" height="10.6" fill="#a9a9ad"/>
<text x="1889.6" y="209.86" font-size="20.55">Other</text>
<path fill="#a9a9ad" d="M116.93 1069.53h4.1v1.29h-4.1zM336.15 1068.22h4.1v0.69h-4.1zM341.24 1067.49h4.1v0.97h-4.1zM445.79 1034.46h4.1v2.45h-4.1zM537.95 1071.18h4.1v2.22h-4.1zM790.51 1071.62h4.1v1.78h-4.1zM1038.45 1027.34h4.1v20.69h-4.1zM1048.69 1064.5h4.1v8.9h-4.1zM1064.05 1068.06h4.1v4h-4.1zM1079.4 1066.73h4.1v4h-4.1zM1110.12 1059.38h4.1v4.89h-4.1zM1207.38 1062.41h4.1v1.2h-4.1zM1238.1 1011.99h4.1v4.09h-4.1zM1289.29 1061.83h4.1v4h-4.1zM1376.31 1070.29h4.1v3.12h-4.1zM1514.53 1072.07h4.1v1.34h-4.1zM1535 1067.3h4.1v2.54h-4.1zM1675.45 962.6h4.1v3.56h-4.1zM1834.07 983.07h4.1v0.89h-4.1z"/>
<path fill="#1f78b4" d="M116.93 1070.82h4.1v2.58h-4.1zM122.03 1067.44h4.1v5.96h-4.1zM351.43 1068.15h4.1v5.25h-4.1zM872.33 1068.06h4.1v5.34h-4.1zM882.56 1072.07h4.1v1.34h-4.1zM887.67 1070.95h4.1v2.45h-4.1zM892.78 1070.29h4.1v3.12h-4.1zM1675.45 1056.31h4.1v17.09h-4.1zM1757.32 1047.14h4.1v26.26h-4.1z"/>
<path fill="#b2df8a" d="M872.33 1048.48h4.1v19.58h-4.1zM887.67 1057.56h4.1v13.39h-4.1zM892.78 1068.06h4.1v2.22h-4.1zM1675.45 1045.99h4.1v10.32h-4.1zM1757.32 952.09h4.1v95.05h-4.1z"/>
<path fill="#36a34a" d="M106.75 1072.07h4.1v1.34h-4.1zM162.76 1071.35h4.1v2.05h-4.1zM226.38 1072.51h4.1v0.89h-4.1zM231.5 1072.64h4.1v0.76h-4.1zM236.62 1071.62h4.1v1.78h-4.1z"/>
<path fill="#f59a9b" d="M257.12 1070.06h4.1v3.34h-4.1zM262.25 1068.64h4.1v4.76h-4.1zM287.88 1071.62h4.1v1.78h-4.1zM293 1071.75h4.1v1.65h-4.1zM336.15 1072.62h4.1v0.78h-4.1zM341.24 1072.38h4.1v1.02h-4.1zM466.27 1059.16h4.1v1.34h-4.1zM486.75 1050.71h4.1v1.34h-4.1zM657.56 1067.3h4.1v1.65h-4.1zM749.61 1071.18h4.1v2.22h-4.1zM1038.45 1064.5h4.1v8.9h-4.1zM1053.81 1070.73h4.1v2.67h-4.1zM1058.93 1070.73h4.1v2.67h-4.1zM1151.07 1060.05h4.1v6.01h-4.1zM1161.31 1021.78h4.1v2.85h-4.1zM1670.33 1065.39h4.1v2.67h-4.1zM1987.57 1063.17h4.1v1.11h-4.1zM2008.03 1064.06h4.1v0.89h-4.1z"/>
<path fill="#e21f26" d="M142.39 1063.25h4.1v10.15h-4.1zM180.25 1067.62h4.1v5.79h-4.1zM185.38 1056.36h4.1v17.04h-4.1zM190.5 1068.39h4.1v5.01h-4.1zM195.62 1053.02h4.1v20.38h-4.1zM200.75 1070.64h4.1v2.76h-4.1zM205.88 1071.95h4.1v1.45h-4.1zM216.12 1060.5h4.1v12.9h-4.1zM246.88 1072.07h4.1v1.34h-4.1zM257.12 1060.18h4.1v9.88h-4.1zM262.25 1056.76h4.1v11.88h-4.1zM282.75 1072.51h4.1v0.89h-4.1zM336.15 1069.68h4.1v2.94h-4.1zM341.24 1068.46h4.1v3.92h-4.1zM371.79 1073.04h4.1v0.36h-4.1zM381.97 1071.35h4.1v2.05h-4.1zM387.07 1072.51h4.1v0.89h-4.1zM409.95 1064.95h4.1v8.45h-4.1zM415.07 1072.51h4.1v0.89h-4.1zM466.27 1060.5h4.1v12.9h-4.1zM476.51 1072.51h4.1v0.89h-4.1zM486.75 1052.04h4.1v21.36h-4.1zM491.87 1072.07h4.1v1.34h-4.1zM507.23 1072.51h4.1v0.89h-4.1zM606.43 1072.51h4.1v0.89h-4.1zM652.45 1070.51h4.1v2.89h-4.1zM657.56 1068.95h4.1v4.45h-4.1zM708.7 1054.89h4.1v18.51h-4.1zM718.93 1067.08h4.1v6.32h-4.1zM759.83 1068.28h4.1v5.12h-4.1zM770.06 1072.51h4.1v0.89h-4.1zM775.17 1061.61h4.1v11.79h-4.1zM780.29 1056.05h4.1v17.36h-4.1zM810.97 1070.29h4.1v3.12h-4.1zM826.31 1072.07h4.1v1.34h-4.1zM836.54 1072.51h4.1v0.89h-4.1zM867.22 1062.72h4.1v10.68h-4.1zM897.9 1040.74h4.1v32.66h-4.1zM918.35 1007.1h4.1v66.3h-4.1zM961.66 1066.73h4.1v6.67h-4.1zM982.14 1070.29h4.1v3.12h-4.1zM987.26 1072.07h4.1v1.34h-4.1zM992.38 1068.95h4.1v4.45h-4.1zM997.5 1068.95h4.1v4.45h-4.1zM1002.62 1068.28h4.1v5.12h-4.1zM1012.86 1069.39h4.1v4.01h-4.1zM1028.21 1064.95h4.1v8.45h-4.1zM1033.33 1066.06h4.1v7.34h-4.1zM1038.45 1048.04h4.1v16.46h-4.1zM1043.57 1072.51h4.1v0.89h-4.1zM1064.05 1072.07h4.1v1.34h-4.1zM1069.17 1037.36h4.1v36.05h-4.1zM1079.4 1070.73h4.1v2.67h-4.1zM1084.52 1064.95h4.1v8.45h-4.1zM1099.88 1063.17h4.1v10.23h-4.1zM1110.12 1064.28h4.1v9.12h-4.1zM1125.48 1070.73h4.1v2.67h-4.1zM1145.95 1072.07h4.1v1.34h-4.1zM1151.07 1066.06h4.1v7.34h-4.1zM1161.31 1024.63h4.1v48.77h-4.1zM1192.02 1065.39h4.1v8.01h-4.1zM1202.26 1068.06h4.1v5.34h-4.1zM1207.38 1067.3h4.1v6.1h-4.1zM1238.1 1016.08h4.1v57.32h-4.1zM1258.57 1072.51h4.1v0.89h-4.1zM1273.93 1062.41h4.1v10.99h-4.1zM1284.17 1024.45h4.1v48.95h-4.1zM1289.29 1068.95h4.1v4.45h-4.1zM1309.76 1070.73h4.1v2.67h-4.1zM1320 1069.39h4.1v4.01h-4.1zM1325.12 1070.73h4.1v2.67h-4.1zM1340.48 1053.38h4.1v20.03h-4.1zM1366.07 1064.28h4.1v9.12h-4.1zM1417.26 1035.58h4.1v37.83h-4.1zM1432.62 1066.73h4.1v6.67h-4.1zM1453.1 1070.29h4.1v3.12h-4.1zM1509.41 1072.51h4.1v0.89h-4.1zM1540.12 1065.39h4.1v8.01h-4.1zM1575.95 1063.39h4.1v10.01h-4.1zM1644.75 1071.62h4.1v1.78h-4.1zM1649.87 1071.62h4.1v1.78h-4.1zM1660.1 1070.73h4.1v2.67h-4.1zM1670.33 1068.06h4.1v5.34h-4.1zM1706.15 1068.06h4.1v5.34h-4.1zM1721.5 1071.18h4.1v2.22h-4.1zM1731.73 1063.17h4.1v10.23h-4.1zM1741.97 1045.1h4.1v28.3h-4.1zM1772.67 1070.73h4.1v2.67h-4.1zM1798.25 1059.74h4.1v13.66h-4.1zM1859.65 1065.39h4.1v8.01h-4.1zM1869.88 1070.29h4.1v3.12h-4.1zM1875 1072.51h4.1v0.89h-4.1zM1880.12 1062.41h4.1v10.99h-4.1zM1946.63 1071.62h4.1v1.78h-4.1zM1951.75 1052.93h4.1v20.47h-4.1zM1967.1 1066.46h4.1v6.94h-4.1zM1987.57 1064.28h4.1v9.12h-4.1zM1992.68 1069.39h4.1v4.01h-4.1zM1997.8 1064.63h4.1v8.77h-4.1zM2002.92 1060.94h4.1v12.46h-4.1zM2008.03 1064.95h4.1v8.45h-4.1zM2023.38 1067.3h4.1v6.1h-4.1zM2033.62 1071.18h4.1v2.22h-4.1zM2048.97 1071.62h4.1v1.78h-4.1zM2069.43 1070.29h4.1v3.12h-4.1zM404.85 1067.3h4.1v6.1h-4.1z"/>
<path fill="#fcc073" d="M308.38 1070.29h4.1v3.12h-4.1zM356.52 1070.42h4.1v2.98h-4.1zM361.61 1071.89h4.1v1.51h-4.1zM366.7 1070.37h4.1v3.03h-4.1zM392.16 1070.06h4.1v3.34h-4.1zM420.19 1059.38h4.1v14.02h-4.1zM425.31 1070.29h4.1v3.12h-4.1zM435.55 1071.18h4.1v2.22h-4.1zM445.79 1070.29h4.1v3.12h-4.1zM450.91 1064.28h4.1v9.12h-4.1zM481.63 1070.29h4.1v3.12h-4.1zM496.99 1063.61h4.1v9.79h-4.1zM548.19 1071.18h4.1v2.22h-4.1zM601.32 1061.61h4.1v11.79h-4.1zM621.77 1056.71h4.1v16.69h-4.1zM672.91 1060.94h4.1v12.46h-4.1zM678.02 1068.28h4.1v5.12h-4.1zM816.08 1065.84h4.1v7.57h-4.1zM851.88 1055.6h4.1v17.8h-4.1zM872.33 1045.37h4.1v3.12h-4.1zM887.67 1056.49h4.1v1.07h-4.1zM892.78 1064.95h4.1v3.12h-4.1zM913.24 1048.93h4.1v24.47h-4.1zM946.31 1063.17h4.1v10.23h-4.1zM951.43 1067.3h4.1v6.1h-4.1zM956.55 1068.51h4.1v4.89h-4.1zM966.78 1067.3h4.1v6.1h-4.1zM971.9 1069.84h4.1v3.56h-4.1zM1023.09 971.94h4.1v101.46h-4.1zM1074.28 1063.17h4.1v10.23h-4.1zM1171.55 1064.28h4.1v9.12h-4.1zM1253.45 1012.44h4.1v60.97h-4.1zM1314.88 1071.18h4.1v2.22h-4.1zM1330.24 1068.51h4.1v4.89h-4.1zM1335.36 1063.61h4.1v9.79h-4.1zM1345.6 1072.07h4.1v1.34h-4.1zM1350.71 1063.17h4.1v10.23h-4.1zM1355.83 1048.48h4.1v24.92h-4.1zM1401.91 1064.95h4.1v8.45h-4.1zM1407.02 1071.18h4.1v2.22h-4.1zM1483.81 1068.06h4.1v5.34h-4.1zM1488.93 1070.29h4.1v3.12h-4.1zM1494.05 1070.29h4.1v3.12h-4.1zM1499.17 1066.06h4.1v7.34h-4.1zM1535 1069.84h4.1v3.56h-4.1zM1614.05 1018.53h4.1v54.87h-4.1zM1629.4 1057.56h4.1v15.84h-4.1zM1654.98 1071.18h4.1v2.22h-4.1zM1675.45 1040.47h4.1v5.52h-4.1zM1690.8 1053.91h4.1v19.49h-4.1zM1716.38 1072.07h4.1v1.34h-4.1zM1736.85 1068.51h4.1v4.89h-4.1zM1757.32 885.79h4.1v66.3h-4.1zM1803.37 1065.39h4.1v8.01h-4.1zM1828.95 1056.31h4.1v17.09h-4.1zM1834.07 1013.77h4.1v59.63h-4.1zM1864.77 1040.47h4.1v32.93h-4.1zM1885.23 1062.41h4.1v10.99h-4.1zM1915.93 1062.28h4.1v11.12h-4.1zM1972.22 1036.2h4.1v37.2h-4.1zM1977.33 1039.89h4.1v33.51h-4.1z"/>
<path fill="#f58220" d="M122.03 1063.83h4.1v3.6h-4.1zM200.75 1067.97h4.1v2.67h-4.1zM205.88 1070.55h4.1v1.4h-4.1zM211 1069.57h4.1v3.83h-4.1zM221.25 1072.07h4.1v1.34h-4.1zM272.5 1070.73h4.1v2.67h-4.1zM277.62 1065.12h4.1v8.28h-4.1zM287.88 1069.97h4.1v1.65h-4.1zM323.75 1072.07h4.1v1.34h-4.1zM356.52 1069.75h4.1v0.67h-4.1zM361.61 1071.18h4.1v0.71h-4.1zM371.79 1072.69h4.1v0.36h-4.1zM376.88 1072.55h4.1v0.85h-4.1zM392.16 1068.46h4.1v1.6h-4.1zM420.19 1049.59h4.1v9.79h-4.1zM425.31 1068.06h4.1v2.22h-4.1zM435.55 1068.51h4.1v2.67h-4.1zM440.67 1068.51h4.1v4.89h-4.1zM445.79 1063.61h4.1v6.67h-4.1zM450.91 1063.17h4.1v1.11h-4.1zM456.03 1066.95h4.1v6.45h-4.1zM481.63 1059.38h4.1v10.9h-4.1zM496.99 1055.6h4.1v8.01h-4.1zM543.07 1071.62h4.1v1.78h-4.1zM548.19 1064.5h4.1v6.68h-4.1zM601.32 1046.26h4.1v15.35h-4.1zM611.54 1070.73h4.1v2.67h-4.1zM621.77 1024.14h4.1v32.57h-4.1zM708.7 1045.37h4.1v9.52h-4.1zM713.81 1064.63h4.1v8.77h-4.1zM831.42 1070.29h4.1v3.12h-4.1zM841.65 1002.42h4.1v70.98h-4.1zM851.88 1048.93h4.1v6.67h-4.1zM856.99 1071.18h4.1v2.22h-4.1zM872.33 1040.47h4.1v4.89h-4.1zM882.56 1066.73h4.1v5.34h-4.1zM887.67 1050.84h4.1v5.65h-4.1zM892.78 1061.83h4.1v3.12h-4.1zM913.24 1028.54h4.1v20.38h-4.1zM1023.09 947.91h4.1v24.03h-4.1zM1069.17 1031.35h4.1v6.01h-4.1zM1074.28 1050.26h4.1v12.91h-4.1zM1171.55 1032.55h4.1v31.73h-4.1zM1217.62 1047.81h4.1v25.59h-4.1zM1232.98 1065.39h4.1v8.01h-4.1zM1253.45 1000.42h4.1v12.01h-4.1zM1289.29 1065.84h4.1v3.12h-4.1zM1314.88 1056.94h4.1v14.24h-4.1zM1335.36 1060.5h4.1v3.12h-4.1zM1355.83 1040.47h4.1v8.01h-4.1zM1401.91 1055.16h4.1v9.79h-4.1zM1407.02 1038.02h4.1v33.15h-4.1zM1412.14 1024.45h4.1v48.95h-4.1zM1504.29 1069.84h4.1v3.56h-4.1zM1524.76 1068.28h4.1v5.12h-4.1zM1529.88 1052.04h4.1v21.36h-4.1zM1540.12 1050.84h4.1v14.55h-4.1zM1550.36 1069.13h4.1v4.27h-4.1zM1555.48 1049.64h4.1v23.76h-4.1zM1560.6 1071.18h4.1v2.22h-4.1zM1570.84 1037.8h4.1v35.6h-4.1zM1575.95 1047.59h4.1v15.8h-4.1zM1654.98 1060.5h4.1v10.68h-4.1zM1660.1 1067.3h4.1v3.43h-4.1zM1675.45 1012.44h4.1v28.03h-4.1zM1690.8 1046.7h4.1v7.21h-4.1zM1757.32 872.04h4.1v13.75h-4.1zM1828.95 1032.55h4.1v23.76h-4.1zM1834.07 1008.88h4.1v4.89h-4.1zM1885.23 1055.6h4.1v6.81h-4.1zM1972.22 1000.24h4.1v35.96h-4.1zM2048.97 1068.51h4.1v3.12h-4.1zM2059.2 1067.3h4.1v6.1h-4.1zM404.85 1061.38h4.1v5.92h-4.1z"/>
<path fill="#c8b2d6" d="M142.39 1058.23h4.1v5.03h-4.1zM167.85 1068.37h4.1v5.03h-4.1zM180.25 1061.92h4.1v5.7h-4.1zM241.75 1068.51h4.1v4.89h-4.1zM257.12 1053.6h4.1v6.59h-4.1zM262.25 1054.44h4.1v2.31h-4.1zM336.15 1068.91h4.1v0.77h-4.1zM392.16 1066.77h4.1v1.69h-4.1zM481.63 1044.7h4.1v14.69h-4.1zM496.99 1052.04h4.1v3.56h-4.1zM522.59 1059.38h4.1v14.02h-4.1zM548.19 1036.24h4.1v28.26h-4.1zM553.31 997.31h4.1v76.1h-4.1zM563.55 1012.44h4.1v60.97h-4.1zM585.98 1065.39h4.1v8.01h-4.1zM596.2 1067.62h4.1v5.79h-4.1zM601.32 1009.54h4.1v36.71h-4.1zM611.54 1066.5h4.1v4.23h-4.1zM616.66 943.46h4.1v129.94h-4.1zM621.77 1011.55h4.1v12.59h-4.1zM626.88 1064.95h4.1v8.45h-4.1zM637.11 1069.39h4.1v4.01h-4.1zM672.91 1057.38h4.1v3.56h-4.1zM713.81 1025.34h4.1v39.29h-4.1zM805.85 1058.72h4.1v14.68h-4.1zM816.08 1046.26h4.1v19.58h-4.1zM831.42 1065.84h4.1v4.45h-4.1zM851.88 1041.36h4.1v7.57h-4.1zM862.1 1071.18h4.1v2.22h-4.1zM872.33 995.97h4.1v44.5h-4.1zM882.56 1061.83h4.1v4.89h-4.1zM887.67 1018.67h4.1v32.17h-4.1zM892.78 1055.6h4.1v6.23h-4.1zM913.24 1003.31h4.1v25.23h-4.1zM1007.74 1017.91h4.1v55.49h-4.1zM1023.09 878.05h4.1v69.87h-4.1zM1094.76 1012.44h4.1v60.97h-4.1zM1120.36 1000.42h4.1v72.98h-4.1zM1140.83 991.74h4.1v81.66h-4.1zM1171.55 1030.68h4.1v1.87h-4.1zM1197.14 1068.95h4.1v4.45h-4.1zM1207.38 1063.61h4.1v3.69h-4.1zM1212.5 1068.06h4.1v5.34h-4.1zM1217.62 985.74h4.1v62.08h-4.1zM1253.45 963.04h4.1v37.38h-4.1zM1314.88 1047.59h4.1v9.35h-4.1zM1391.67 1061.38h4.1v12.02h-4.1zM1401.91 1046.7h4.1v8.46h-4.1zM1407.02 1011.99h4.1v26.03h-4.1zM1412.14 906.53h4.1v117.92h-4.1zM1468.45 1070.73h4.1v2.67h-4.1zM1499.17 1060.94h4.1v5.12h-4.1zM1529.88 1043.9h4.1v8.14h-4.1zM1581.07 1036.91h4.1v36.49h-4.1zM1586.19 1013.77h4.1v59.63h-4.1zM1614.05 974.61h4.1v43.92h-4.1zM1639.63 1027.7h4.1v45.7h-4.1zM1654.98 1053.38h4.1v7.12h-4.1zM1675.45 971.5h4.1v40.94h-4.1zM1690.8 1025.34h4.1v21.36h-4.1zM1716.38 1064.5h4.1v7.57h-4.1zM1731.73 1056.31h4.1v6.85h-4.1zM1736.85 1063.61h4.1v4.89h-4.1zM1757.32 712.06h4.1v159.98h-4.1zM1767.55 1048.93h4.1v24.47h-4.1zM1828.95 1008.16h4.1v24.39h-4.1zM1834.07 983.96h4.1v24.92h-4.1zM1864.77 1031.7h4.1v8.77h-4.1zM1905.7 1007.32h4.1v66.08h-4.1zM1910.82 1069.39h4.1v4.01h-4.1zM1972.22 970.38h4.1v29.86h-4.1zM1977.33 799.73h4.1v240.17h-4.1zM404.85 1056.49h4.1v4.89h-4.1z"/>
<path fill="#6a3d9a" d="M356.52 1065.45h4.1v4.3h-4.1zM361.61 1062.92h4.1v8.25h-4.1zM366.7 1066.64h4.1v3.74h-4.1zM392.16 1065.21h4.1v1.56h-4.1zM420.19 1012.88h4.1v36.71h-4.1zM425.31 1060.5h4.1v7.57h-4.1zM435.55 1048.93h4.1v19.58h-4.1zM440.67 1038.91h4.1v29.59h-4.1zM445.79 1036.91h4.1v26.7h-4.1zM450.91 1038.69h4.1v24.48h-4.1zM456.03 1052.93h4.1v14.02h-4.1zM481.63 1042.92h4.1v1.78h-4.1zM872.33 990.63h4.1v5.34h-4.1zM882.56 1056.94h4.1v4.89h-4.1zM887.67 1010.21h4.1v8.46h-4.1zM892.78 1054.71h4.1v0.89h-4.1zM913.24 997.75h4.1v5.56h-4.1zM946.31 1052.93h4.1v10.24h-4.1zM951.43 1056.94h4.1v10.37h-4.1zM956.55 1058.27h4.1v10.24h-4.1zM966.78 1060.23h4.1v7.08h-4.1zM971.9 1068.28h4.1v1.56h-4.1zM1023.09 874.04h4.1v4h-4.1zM1069.17 1030.24h4.1v1.11h-4.1zM1074.28 1031.35h4.1v18.91h-4.1zM1171.55 1025.61h4.1v5.07h-4.1zM1197.14 1065.39h4.1v3.56h-4.1zM1253.45 960.82h4.1v2.23h-4.1zM1314.88 1042.92h4.1v4.67h-4.1zM1330.24 1036.2h4.1v32.31h-4.1zM1335.36 1042.92h4.1v17.58h-4.1zM1345.6 1061.83h4.1v10.23h-4.1zM1350.71 1057.38h4.1v5.79h-4.1zM1355.83 1027.34h4.1v13.13h-4.1zM1483.81 1064.28h4.1v3.78h-4.1zM1488.93 1067.3h4.1v2.98h-4.1zM1494.05 1057.83h4.1v12.46h-4.1zM1504.29 1056.31h4.1v13.53h-4.1zM1675.45 966.16h4.1v5.34h-4.1zM1690.8 1021.6h4.1v3.74h-4.1zM1716.38 1062.28h4.1v2.22h-4.1zM1736.85 1060.58h4.1v3.03h-4.1zM1757.32 699.16h4.1v12.91h-4.1zM1828.95 1001.09h4.1v7.08h-4.1zM1885.23 1027.7h4.1v27.9h-4.1zM1972.22 965.89h4.1v4.49h-4.1z"/>
<path d="M175.1 680V1072.6M331 680V1072.6M405.4 680V1072.6M571.8 680V1072.6M926.5 680V1072.6M1609.5 680V1072.6" fill="none" stroke="#8a8a8a" stroke-width="1.5" stroke-dasharray="11.2 5.8"/>
<rect x="103" y="679" width="1978" height="394.6" fill="none" stroke="#000" stroke-width="2"/>
<path d="M103 1073.4h-7M103 1028.9h-7M103 984.4h-7M103 939.9h-7M103 895.4h-7M103 850.9h-7M103 806.4h-7M103 761.9h-7M103 717.4h-7" fill="none" stroke="#000" stroke-width="1.5"/>
<text x="91.2" y="1079.3" font-size="16.5" text-anchor="end">0</text>
<text x="91.2" y="1034.8" font-size="16.5" text-anchor="end">1</text>
<text x="91.2" y="990.3" font-size="16.5" text-anchor="end">2</text>
<text x="91.2" y="945.8" font-size="16.5" text-anchor="end">3</text>
<text x="91.2" y="901.3" font-size="16.5" text-anchor="end">4</text>
<text x="91.2" y="856.8" font-size="16.5" text-anchor="end">5</text>
<text x="91.2" y="812.3" font-size="16.5" text-anchor="end">6</text>
<text x="91.2" y="767.8" font-size="16.5" text-anchor="end">7</text>
<text x="91.2" y="723.3" font-size="16.5" text-anchor="end">8</text>
<text x="40.5" y="877.5" font-size="20.8" text-anchor="middle" transform="rotate(-90 40.5 876.5)">Percentage of <tspan font-style="italic">ACE2</tspan><tspan font-size="13.5" dy="-6.5">+</tspan><tspan dy="6.5" font-style="italic">TMPRSS2</tspan><tspan font-size="13.5" dy="-6.5">+</tspan><tspan dy="6.5"> cells (%)</tspan></text>
<path fill="#a9a9ad" d="M106.75 1106h4.1v362.33h-4.1zM111.84 1106h4.1v371.1h-4.1zM116.93 1106h4.1v149.47h-4.1zM122.03 1106h4.1v265.47h-4.1zM127.12 1106h4.1v389.83h-4.1zM132.21 1106h4.1v398.6h-4.1zM137.3 1106h4.1v391.03h-4.1zM142.39 1106h4.1v172.2h-4.1zM147.48 1106h4.1v390.63h-4.1zM152.57 1106h4.1v398.6h-4.1zM157.67 1106h4.1v383.45h-4.1zM162.76 1106h4.1v370.3h-4.1zM167.85 1106h4.1v192.92h-4.1zM180.25 1106h4.1v212.85h-4.1zM185.38 1106h4.1v254.31h-4.1zM190.5 1106h4.1v250.32h-4.1zM195.62 1106h4.1v125.16h-4.1zM200.75 1106h4.1v359.54h-4.1zM205.88 1106h4.1v384.65h-4.1zM211 1106h4.1v382.26h-4.1zM216.12 1106h4.1v102.44h-4.1zM221.25 1106h4.1v384.65h-4.1zM226.38 1106h4.1v326.45h-4.1zM231.5 1106h4.1v356.75h-4.1zM236.62 1106h4.1v373.89h-4.1zM241.75 1106h4.1v378.67h-4.1zM246.88 1106h4.1v381.06h-4.1zM252 1106h4.1v384.65h-4.1zM257.12 1106h4.1v180.17h-4.1zM262.25 1106h4.1v180.57h-4.1zM267.38 1106h4.1v383.05h-4.1zM272.5 1106h4.1v322.87h-4.1zM277.62 1106h4.1v305.73h-4.1zM282.75 1106h4.1v368.31h-4.1zM287.88 1106h4.1v370.3h-4.1zM293 1106h4.1v362.33h-4.1zM298.12 1106h4.1v340.8h-4.1zM303.25 1106h4.1v373.09h-4.1zM308.38 1106h4.1v350.77h-4.1zM313.5 1106h4.1v365.91h-4.1zM318.62 1106h4.1v357.15h-4.1zM323.75 1106h4.1v305.73h-4.1zM336.15 1106h4.1v259.09h-4.1zM341.24 1106h4.1v289.78h-4.1zM346.33 1106h4.1v378.67h-4.1zM351.43 1106h4.1v319.68h-4.1zM356.52 1106h4.1v21.52h-4.1zM361.61 1106h4.1v23.92h-4.1zM366.7 1106h4.1v24.71h-4.1zM371.79 1106h4.1v305.73h-4.1zM376.88 1106h4.1v299.35h-4.1zM381.97 1106h4.1v271.85h-4.1zM387.07 1106h4.1v270.65h-4.1zM392.16 1106h4.1v2.39h-4.1zM397.25 1106h4.1v225.21h-4.1zM409.95 1106h4.1v215.24h-4.1zM415.07 1106h4.1v375.48h-4.1zM420.19 1106h4.1v71.75h-4.1zM425.31 1106h4.1v206.08h-4.1zM430.43 1106h4.1v337.22h-4.1zM435.55 1106h4.1v148.68h-4.1zM440.67 1106h4.1v102.84h-4.1zM445.79 1106h4.1v170.2h-4.1zM450.91 1106h4.1v152.66h-4.1zM456.03 1106h4.1v182.16h-4.1zM461.15 1106h4.1v398.6h-4.1zM466.27 1106h4.1v197.31h-4.1zM471.39 1106h4.1v365.91h-4.1zM476.51 1106h4.1v365.91h-4.1zM481.63 1106h4.1v2.79h-4.1zM486.75 1106h4.1v225.21h-4.1zM491.87 1106h4.1v379.07h-4.1zM496.99 1106h4.1v1.59h-4.1zM502.11 1106h4.1v358.34h-4.1zM507.23 1106h4.1v339.21h-4.1zM512.35 1106h4.1v389.03h-4.1zM517.47 1106h4.1v254.71h-4.1zM522.59 1106h4.1v5.98h-4.1zM527.71 1106h4.1v23.52h-4.1zM532.83 1106h4.1v10.76h-4.1zM537.95 1106h4.1v42.25h-4.1zM543.07 1106h4.1v325.66h-4.1zM548.19 1106h4.1v5.98h-4.1zM553.31 1106h4.1v5.98h-4.1zM558.43 1106h4.1v389.03h-4.1zM563.55 1106h4.1v19.53h-4.1zM575.75 1106h4.1v37.87h-4.1zM580.86 1106h4.1v158.24h-4.1zM585.98 1106h4.1v7.17h-4.1zM591.09 1106h4.1v49.03h-4.1zM596.2 1106h4.1v51.82h-4.1zM601.32 1106h4.1v20.73h-4.1zM606.43 1106h4.1v12.76h-4.1zM611.54 1106h4.1v20.33h-4.1zM616.66 1106h4.1v33.48h-4.1zM621.77 1106h4.1v0.8h-4.1zM626.88 1106h4.1v43.45h-4.1zM632 1106h4.1v365.91h-4.1zM637.11 1106h4.1v47.83h-4.1zM642.22 1106h4.1v398.6h-4.1zM647.34 1106h4.1v376.28h-4.1zM652.45 1106h4.1v389.83h-4.1zM657.56 1106h4.1v250.32h-4.1zM662.68 1106h4.1v179.37h-4.1zM667.79 1106h4.1v20.33h-4.1zM672.91 1106h4.1v7.97h-4.1zM678.02 1106h4.1v58.2h-4.1zM683.13 1106h4.1v390.63h-4.1zM688.25 1106h4.1v33.48h-4.1zM693.36 1106h4.1v20.73h-4.1zM698.47 1106h4.1v48.23h-4.1zM703.59 1106h4.1v9.57h-4.1zM708.7 1106h4.1v142.7h-4.1zM713.81 1106h4.1v15.94h-4.1zM718.93 1106h4.1v303.73h-4.1zM724.04 1106h4.1v60.99h-4.1zM729.15 1106h4.1v33.88h-4.1zM734.27 1106h4.1v386.64h-4.1zM739.38 1106h4.1v398.6h-4.1zM744.49 1106h4.1v92.48h-4.1zM749.61 1106h4.1v36.67h-4.1zM754.72 1106h4.1v66.96h-4.1zM759.83 1106h4.1v317.68h-4.1zM764.95 1106h4.1v389.83h-4.1zM770.06 1106h4.1v389.83h-4.1zM775.17 1106h4.1v258.29h-4.1zM780.29 1106h4.1v229.99h-4.1zM785.4 1106h4.1v19.13h-4.1zM790.51 1106h4.1v17.14h-4.1zM795.63 1106h4.1v16.34h-4.1zM800.74 1106h4.1v49.43h-4.1zM805.85 1106h4.1v99.65h-4.1zM810.97 1106h4.1v306.92h-4.1zM816.08 1106h4.1v9.17h-4.1zM821.19 1106h4.1v238.76h-4.1zM826.31 1106h4.1v346.78h-4.1zM831.42 1106h4.1v42.25h-4.1zM836.54 1106h4.1v23.52h-4.1zM841.65 1106h4.1v38.27h-4.1zM846.76 1106h4.1v86.1h-4.1zM851.88 1106h4.1v3.99h-4.1zM856.99 1106h4.1v79.72h-4.1zM862.1 1106h4.1v66.57h-4.1zM867.22 1106h4.1v349.17h-4.1zM872.33 1106h4.1v14.75h-4.1zM877.44 1106h4.1v389.03h-4.1zM882.56 1106h4.1v10.36h-4.1zM887.67 1106h4.1v9.57h-4.1zM892.78 1106h4.1v3.19h-4.1zM897.9 1106h4.1v169.4h-4.1zM903.01 1106h4.1v335.22h-4.1zM908.12 1106h4.1v360.73h-4.1zM913.24 1106h4.1v3.99h-4.1zM918.35 1106h4.1v213.65h-4.1zM930.95 1106h4.1v393.82h-4.1zM936.07 1106h4.1v383.85h-4.1zM941.19 1106h4.1v382.66h-4.1zM946.31 1106h4.1v32.29h-4.1zM951.43 1106h4.1v42.25h-4.1zM956.55 1106h4.1v41.06h-4.1zM961.66 1106h4.1v302.54h-4.1zM966.78 1106h4.1v29.5h-4.1zM971.9 1106h4.1v40.26h-4.1zM977.02 1106h4.1v365.91h-4.1zM982.14 1106h4.1v334.03h-4.1zM987.26 1106h4.1v349.97h-4.1zM992.38 1106h4.1v356.35h-4.1zM997.5 1106h4.1v310.11h-4.1zM1002.62 1106h4.1v289.78h-4.1zM1007.74 1106h4.1v39.86h-4.1zM1012.86 1106h4.1v143.1h-4.1zM1017.97 1106h4.1v13.15h-4.1zM1023.09 1106h4.1v3.19h-4.1zM1028.21 1106h4.1v153.06h-4.1zM1033.33 1106h4.1v169.01h-4.1zM1038.45 1106h4.1v141.9h-4.1zM1043.57 1106h4.1v133.13h-4.1zM1048.69 1106h4.1v393.82h-4.1zM1053.81 1106h4.1v368.7h-4.1zM1058.93 1106h4.1v367.51h-4.1zM1064.05 1106h4.1v111.21h-4.1zM1069.17 1106h4.1v262.68h-4.1zM1074.28 1106h4.1v58.99h-4.1zM1079.4 1106h4.1v174.99h-4.1zM1084.52 1106h4.1v148.68h-4.1zM1089.64 1106h4.1v347.58h-4.1zM1094.76 1106h4.1v9.57h-4.1zM1099.88 1106h4.1v192.52h-4.1zM1105 1106h4.1v398.6h-4.1zM1110.12 1106h4.1v196.91h-4.1zM1115.24 1106h4.1v392.22h-4.1zM1120.36 1106h4.1v64.57h-4.1zM1125.48 1106h4.1v149.87h-4.1zM1130.59 1106h4.1v208.07h-4.1zM1135.71 1106h4.1v118.78h-4.1zM1140.83 1106h4.1v87.29h-4.1zM1145.95 1106h4.1v335.22h-4.1zM1151.07 1106h4.1v216.44h-4.1zM1156.19 1106h4.1v398.6h-4.1zM1161.31 1106h4.1v21.52h-4.1zM1166.43 1106h4.1v398.6h-4.1zM1171.55 1106h4.1v9.57h-4.1zM1176.67 1106h4.1v390.63h-4.1zM1181.79 1106h4.1v398.6h-4.1zM1186.9 1106h4.1v275.03h-4.1zM1192.02 1106h4.1v324.86h-4.1zM1197.14 1106h4.1v45.44h-4.1zM1202.26 1106h4.1v334.43h-4.1zM1207.38 1106h4.1v246.73h-4.1zM1212.5 1106h4.1v54.61h-4.1zM1217.62 1106h4.1v1.99h-4.1zM1222.74 1106h4.1v396.61h-4.1zM1227.86 1106h4.1v394.61h-4.1zM1232.98 1106h4.1v292.97h-4.1zM1238.1 1106h4.1v167.41h-4.1zM1243.21 1106h4.1v190.13h-4.1zM1248.33 1106h4.1v11.96h-4.1zM1253.45 1106h4.1v5.18h-4.1zM1258.57 1106h4.1v359.54h-4.1zM1263.69 1106h4.1v3.19h-4.1zM1268.81 1106h4.1v398.6h-4.1zM1273.93 1106h4.1v146.29h-4.1zM1279.05 1106h4.1v130.74h-4.1zM1284.17 1106h4.1v2.79h-4.1zM1289.29 1106h4.1v101.24h-4.1zM1294.4 1106h4.1v394.61h-4.1zM1299.52 1106h4.1v349.17h-4.1zM1304.64 1106h4.1v392.62h-4.1zM1309.76 1106h4.1v351.17h-4.1zM1314.88 1106h4.1v2.79h-4.1zM1320 1106h4.1v357.15h-4.1zM1325.12 1106h4.1v160.24h-4.1zM1330.24 1106h4.1v134.33h-4.1zM1335.36 1106h4.1v31.09h-4.1zM1340.48 1106h4.1v120.78h-4.1zM1345.6 1106h4.1v36.67h-4.1zM1350.71 1106h4.1v35.48h-4.1zM1355.83 1106h4.1v23.52h-4.1zM1360.95 1106h4.1v339.21h-4.1zM1366.07 1106h4.1v385.45h-4.1zM1371.19 1106h4.1v382.26h-4.1zM1376.31 1106h4.1v367.51h-4.1zM1381.43 1106h4.1v373.89h-4.1zM1386.55 1106h4.1v392.22h-4.1zM1391.67 1106h4.1v27.9h-4.1zM1396.79 1106h4.1v389.03h-4.1zM1401.91 1106h4.1v27.9h-4.1zM1407.02 1106h4.1v46.64h-4.1zM1412.14 1106h4.1v1.59h-4.1zM1417.26 1106h4.1v272.24h-4.1zM1422.38 1106h4.1v89.68h-4.1zM1427.5 1106h4.1v377.08h-4.1zM1432.62 1106h4.1v198.5h-4.1zM1437.74 1106h4.1v335.22h-4.1zM1442.86 1106h4.1v365.52h-4.1zM1447.98 1106h4.1v138.71h-4.1zM1453.1 1106h4.1v73.34h-4.1zM1458.22 1106h4.1v398.6h-4.1zM1463.33 1106h4.1v321.67h-4.1zM1468.45 1106h4.1v302.94h-4.1zM1473.57 1106h4.1v358.74h-4.1zM1478.69 1106h4.1v317.68h-4.1zM1483.81 1106h4.1v21.52h-4.1zM1488.93 1106h4.1v31.09h-4.1zM1494.05 1106h4.1v66.57h-4.1zM1499.17 1106h4.1v4.38h-4.1zM1504.29 1106h4.1v28.3h-4.1zM1509.41 1106h4.1v238.76h-4.1zM1514.53 1106h4.1v391.03h-4.1zM1519.64 1106h4.1v365.91h-4.1zM1524.76 1106h4.1v388.63h-4.1zM1529.88 1106h4.1v226.8h-4.1zM1535 1106h4.1v312.1h-4.1zM1540.12 1106h4.1v310.91h-4.1zM1545.24 1106h4.1v398.6h-4.1zM1550.36 1106h4.1v394.22h-4.1zM1555.48 1106h4.1v365.91h-4.1zM1560.6 1106h4.1v384.65h-4.1zM1565.72 1106h4.1v381.46h-4.1zM1570.84 1106h4.1v302.94h-4.1zM1575.95 1106h4.1v369.1h-4.1zM1581.07 1106h4.1v1.99h-4.1zM1586.19 1106h4.1v1.99h-4.1zM1591.31 1106h4.1v368.7h-4.1zM1596.43 1106h4.1v258.29h-4.1zM1601.55 1106h4.1v395.01h-4.1zM1614.05 1106h4.1v1.99h-4.1zM1619.17 1106h4.1v389.03h-4.1zM1624.28 1106h4.1v393.02h-4.1zM1629.4 1106h4.1v117.99h-4.1zM1634.52 1106h4.1v112.41h-4.1zM1639.63 1106h4.1v151.47h-4.1zM1644.75 1106h4.1v380.26h-4.1zM1649.87 1106h4.1v255.5h-4.1zM1654.98 1106h4.1v25.91h-4.1zM1660.1 1106h4.1v364.72h-4.1zM1665.22 1106h4.1v355.95h-4.1zM1670.33 1106h4.1v238.36h-4.1zM1675.45 1106h4.1v13.15h-4.1zM1680.57 1106h4.1v263.08h-4.1zM1685.68 1106h4.1v189.73h-4.1zM1690.8 1106h4.1v2.79h-4.1zM1695.92 1106h4.1v387.84h-4.1zM1701.03 1106h4.1v398.6h-4.1zM1706.15 1106h4.1v365.52h-4.1zM1711.27 1106h4.1v111.61h-4.1zM1716.38 1106h4.1v65.37h-4.1zM1721.5 1106h4.1v320.87h-4.1zM1726.62 1106h4.1v398.6h-4.1zM1731.73 1106h4.1v306.12h-4.1zM1736.85 1106h4.1v80.92h-4.1zM1741.97 1106h4.1v319.28h-4.1zM1747.08 1106h4.1v398.6h-4.1zM1752.2 1106h4.1v398.6h-4.1zM1757.32 1106h4.1v38.27h-4.1zM1762.43 1106h4.1v258.29h-4.1zM1767.55 1106h4.1v142.7h-4.1zM1772.67 1106h4.1v292.97h-4.1zM1777.78 1106h4.1v389.83h-4.1zM1782.9 1106h4.1v389.03h-4.1zM1788.02 1106h4.1v392.22h-4.1zM1793.13 1106h4.1v369.9h-4.1zM1798.25 1106h4.1v308.12h-4.1zM1803.37 1106h4.1v172.59h-4.1zM1808.48 1106h4.1v303.73h-4.1zM1813.6 1106h4.1v375.48h-4.1zM1818.72 1106h4.1v392.22h-4.1zM1823.83 1106h4.1v390.63h-4.1zM1828.95 1106h4.1v1.99h-4.1zM1834.07 1106h4.1v1.99h-4.1zM1839.18 1106h4.1v393.82h-4.1zM1844.3 1106h4.1v353.16h-4.1zM1849.42 1106h4.1v329.24h-4.1zM1854.53 1106h4.1v394.61h-4.1zM1859.65 1106h4.1v1.99h-4.1zM1864.77 1106h4.1v138.71h-4.1zM1869.88 1106h4.1v382.66h-4.1zM1875 1106h4.1v395.01h-4.1zM1880.12 1106h4.1v3.99h-4.1zM1885.23 1106h4.1v83.71h-4.1zM1890.35 1106h4.1v344.39h-4.1zM1895.47 1106h4.1v51.02h-4.1zM1900.58 1106h4.1v339.21h-4.1zM1905.7 1106h4.1v118.78h-4.1zM1910.82 1106h4.1v112.41h-4.1zM1915.93 1106h4.1v158.64h-4.1zM1921.05 1106h4.1v394.61h-4.1zM1926.17 1106h4.1v391.82h-4.1zM1931.28 1106h4.1v382.26h-4.1zM1936.4 1106h4.1v389.03h-4.1zM1941.52 1106h4.1v385.45h-4.1zM1946.63 1106h4.1v382.66h-4.1zM1951.75 1106h4.1v324.86h-4.1zM1956.87 1106h4.1v379.07h-4.1zM1961.98 1106h4.1v391.82h-4.1zM1967.1 1106h4.1v6.38h-4.1zM1972.22 1106h4.1v4.38h-4.1zM1977.33 1106h4.1v112.41h-4.1zM1982.45 1106h4.1v35.87h-4.1zM1987.57 1106h4.1v243.94h-4.1zM1992.68 1106h4.1v281.41h-4.1zM1997.8 1106h4.1v312.1h-4.1zM2002.92 1106h4.1v285.8h-4.1zM2008.03 1106h4.1v231.99h-4.1zM2013.15 1106h4.1v349.97h-4.1zM2018.27 1106h4.1v320.47h-4.1zM2023.38 1106h4.1v138.71h-4.1zM2028.5 1106h4.1v398.6h-4.1zM2033.62 1106h4.1v353.96h-4.1zM2038.73 1106h4.1v392.22h-4.1zM2043.85 1106h4.1v398.6h-4.1zM2048.97 1106h4.1v79.72h-4.1zM2054.08 1106h4.1v127.55h-4.1zM2059.2 1106h4.1v135.13h-4.1zM2064.32 1106h4.1v383.85h-4.1zM2069.43 1106h4.1v192.52h-4.1zM2074.55 1106h4.1v121.17h-4.1z"/>
<path fill="#1f78b4" d="M111.84 1499.82h4.1v4.78h-4.1zM116.93 1353.93h4.1v150.67h-4.1zM122.03 1395.38h4.1v109.22h-4.1zM226.38 1483.08h4.1v21.52h-4.1zM346.33 1502.21h4.1v2.39h-4.1zM351.43 1483.87h4.1v20.73h-4.1zM872.33 1428.47h4.1v76.13h-4.1zM882.56 1457.17h4.1v47.43h-4.1zM887.67 1409.73h4.1v94.87h-4.1zM892.78 1462.35h4.1v42.25h-4.1zM1222.74 1502.61h4.1v1.99h-4.1zM1304.64 1498.62h4.1v5.98h-4.1zM1601.55 1501.01h4.1v3.59h-4.1zM1675.45 1428.87h4.1v75.73h-4.1zM1757.32 1431.66h4.1v72.94h-4.1z"/>
<path fill="#b2df8a" d="M872.33 1364.29h4.1v64.17h-4.1zM882.56 1439.23h4.1v17.94h-4.1zM887.67 1364.29h4.1v45.44h-4.1zM892.78 1389.8h4.1v72.55h-4.1zM1675.45 1399.37h4.1v29.5h-4.1zM1757.32 1377.45h4.1v54.21h-4.1z"/>
<path fill="#36a34a" d="M106.75 1468.33h4.1v36.27h-4.1zM111.84 1481.88h4.1v17.94h-4.1zM116.93 1338.78h4.1v15.15h-4.1zM137.3 1497.03h4.1v7.57h-4.1zM147.48 1496.63h4.1v7.97h-4.1zM157.67 1489.45h4.1v15.15h-4.1zM162.76 1476.3h4.1v28.3h-4.1zM226.38 1453.18h4.1v29.89h-4.1zM231.5 1468.33h4.1v36.27h-4.1zM236.62 1479.89h4.1v24.71h-4.1z"/>
<path fill="#f59a9b" d="M127.12 1500.61h4.1v3.99h-4.1zM195.62 1481.88h4.1v22.72h-4.1zM216.12 1473.91h4.1v30.69h-4.1zM257.12 1459.96h4.1v44.64h-4.1zM262.25 1465.54h4.1v39.06h-4.1zM293 1500.61h4.1v3.99h-4.1zM298.12 1490.65h4.1v13.95h-4.1zM313.5 1486.26h4.1v18.34h-4.1zM318.62 1483.87h4.1v20.73h-4.1zM323.75 1469.52h4.1v35.08h-4.1zM336.15 1464.34h4.1v40.26h-4.1zM341.24 1465.54h4.1v39.06h-4.1zM346.33 1493.44h4.1v8.77h-4.1zM351.43 1448h4.1v35.87h-4.1zM371.79 1442.02h4.1v62.58h-4.1zM376.88 1480.68h4.1v23.92h-4.1zM381.97 1487.06h4.1v17.54h-4.1zM387.07 1475.9h4.1v28.7h-4.1zM409.95 1473.91h4.1v30.69h-4.1zM415.07 1498.22h4.1v6.38h-4.1zM430.43 1457.96h4.1v46.64h-4.1zM466.27 1495.83h4.1v8.77h-4.1zM471.39 1499.02h4.1v5.58h-4.1zM476.51 1499.82h4.1v4.78h-4.1zM486.75 1476.7h4.1v27.9h-4.1zM491.87 1498.62h4.1v5.98h-4.1zM502.11 1491.45h4.1v13.15h-4.1zM507.23 1482.28h4.1v22.32h-4.1zM517.47 1491.84h4.1v12.76h-4.1zM657.56 1495.03h4.1v9.57h-4.1zM708.7 1497.82h4.1v6.78h-4.1zM718.93 1493.84h4.1v10.76h-4.1zM759.83 1498.22h4.1v6.38h-4.1zM780.29 1500.61h4.1v3.99h-4.1zM810.97 1498.22h4.1v6.38h-4.1zM918.35 1488.66h4.1v15.94h-4.1zM961.66 1465.54h4.1v39.06h-4.1zM977.02 1496.63h4.1v7.97h-4.1zM982.14 1497.82h4.1v6.78h-4.1zM987.26 1499.02h4.1v5.58h-4.1zM992.38 1501.41h4.1v3.19h-4.1zM1012.86 1440.03h4.1v64.57h-4.1zM1028.21 1450.79h4.1v53.81h-4.1zM1033.33 1445.21h4.1v59.39h-4.1zM1038.45 1424.48h4.1v80.12h-4.1zM1043.57 1446.8h4.1v57.8h-4.1zM1053.81 1501.41h4.1v3.19h-4.1zM1058.93 1497.03h4.1v7.57h-4.1zM1064.05 1449.59h4.1v55.01h-4.1zM1069.17 1475.9h4.1v28.7h-4.1zM1079.4 1451.59h4.1v53.01h-4.1zM1084.52 1487.46h4.1v17.14h-4.1zM1089.64 1486.66h4.1v17.94h-4.1zM1099.88 1488.26h4.1v16.34h-4.1zM1110.12 1418.9h4.1v85.7h-4.1zM1125.48 1389.8h4.1v114.8h-4.1zM1130.59 1356.32h4.1v148.28h-4.1zM1145.95 1495.83h4.1v8.77h-4.1zM1151.07 1486.66h4.1v17.94h-4.1zM1161.31 1465.54h4.1v39.06h-4.1zM1176.67 1496.63h4.1v7.97h-4.1zM1186.9 1498.22h4.1v6.38h-4.1zM1202.26 1501.01h4.1v3.59h-4.1zM1207.38 1470.72h4.1v33.88h-4.1zM1232.98 1494.63h4.1v9.96h-4.1zM1238.1 1486.66h4.1v17.94h-4.1zM1258.57 1499.02h4.1v5.58h-4.1zM1273.93 1436.04h4.1v68.56h-4.1zM1279.05 1384.62h4.1v119.98h-4.1zM1289.29 1442.42h4.1v62.18h-4.1zM1299.52 1498.22h4.1v6.38h-4.1zM1309.76 1498.22h4.1v6.38h-4.1zM1320 1499.02h4.1v5.58h-4.1zM1325.12 1489.85h4.1v14.75h-4.1zM1340.48 1487.46h4.1v17.14h-4.1zM1360.95 1463.15h4.1v41.45h-4.1zM1422.38 1499.82h4.1v4.78h-4.1zM1432.62 1496.63h4.1v7.97h-4.1zM1447.98 1501.41h4.1v3.19h-4.1zM1453.1 1489.85h4.1v14.75h-4.1zM1473.57 1500.61h4.1v3.99h-4.1zM1478.69 1468.73h4.1v35.87h-4.1zM1509.41 1489.45h4.1v15.15h-4.1zM1519.64 1494.63h4.1v9.96h-4.1zM1570.84 1498.22h4.1v6.38h-4.1zM1591.31 1502.61h4.1v1.99h-4.1zM1596.43 1483.47h4.1v21.13h-4.1zM1644.75 1501.41h4.1v3.19h-4.1zM1649.87 1493.84h4.1v10.76h-4.1zM1660.1 1499.02h4.1v5.58h-4.1zM1665.22 1496.63h4.1v7.97h-4.1zM1670.33 1493.04h4.1v11.56h-4.1zM1685.68 1460.36h4.1v44.24h-4.1zM1772.67 1487.46h4.1v17.14h-4.1zM1777.78 1501.01h4.1v3.59h-4.1zM1782.9 1501.01h4.1v3.59h-4.1zM1793.13 1495.03h4.1v9.57h-4.1zM1813.6 1499.82h4.1v4.78h-4.1zM1844.3 1481.08h4.1v23.52h-4.1zM1849.42 1479.09h4.1v25.51h-4.1zM1869.88 1488.66h4.1v2.79h-4.1zM1875 1501.01h4.1v3.59h-4.1zM1890.35 1488.66h4.1v15.94h-4.1zM1895.47 1495.83h4.1v8.77h-4.1zM1910.82 1500.22h4.1v4.38h-4.1zM1926.17 1501.41h4.1v3.19h-4.1zM1931.28 1500.22h4.1v4.38h-4.1zM1936.4 1498.62h4.1v5.98h-4.1zM1941.52 1498.62h4.1v5.98h-4.1zM1946.63 1501.01h4.1v3.59h-4.1zM1951.75 1499.82h4.1v4.78h-4.1zM1956.87 1499.82h4.1v4.78h-4.1zM1987.57 1483.08h4.1v21.52h-4.1zM1992.68 1488.26h4.1v16.34h-4.1zM1997.8 1495.03h4.1v9.57h-4.1zM2002.92 1498.22h4.1v6.38h-4.1zM2008.03 1475.9h4.1v28.7h-4.1zM2013.15 1488.66h4.1v15.94h-4.1zM2023.38 1425.28h4.1v79.32h-4.1zM2038.73 1498.22h4.1v6.38h-4.1zM2048.97 1454.77h4.1v49.83h-4.1zM2059.2 1455.17h4.1v49.43h-4.1zM2064.32 1489.85h4.1v3.19h-4.1zM2069.43 1499.82h4.1v4.78h-4.1z"/>
<path fill="#e21f26" d="M142.39 1452.78h4.1v51.82h-4.1zM167.85 1374.26h4.1v130.34h-4.1zM180.25 1384.22h4.1v120.38h-4.1zM185.38 1434.45h4.1v70.15h-4.1zM190.5 1419.7h4.1v84.9h-4.1zM195.62 1255.47h4.1v226.4h-4.1zM200.75 1499.42h4.1v5.18h-4.1zM205.88 1501.41h4.1v3.19h-4.1zM211 1496.63h4.1v7.97h-4.1zM216.12 1229.57h4.1v244.34h-4.1zM221.25 1497.03h4.1v7.57h-4.1zM241.75 1497.43h4.1v7.17h-4.1zM246.88 1499.42h4.1v5.18h-4.1zM252 1497.43h4.1v7.17h-4.1zM257.12 1332.01h4.1v127.95h-4.1zM262.25 1311.28h4.1v154.26h-4.1zM267.38 1501.41h4.1v3.19h-4.1zM277.62 1498.22h4.1v6.38h-4.1zM282.75 1497.03h4.1v7.57h-4.1zM287.88 1497.82h4.1v6.78h-4.1zM293 1491.45h4.1v9.17h-4.1zM298.12 1485.87h4.1v4.78h-4.1zM303.25 1498.22h4.1v6.38h-4.1zM313.5 1479.49h4.1v6.78h-4.1zM318.62 1471.52h4.1v12.36h-4.1zM323.75 1424.08h4.1v45.44h-4.1zM336.15 1396.98h4.1v67.36h-4.1zM341.24 1402.96h4.1v62.58h-4.1zM346.33 1484.67h4.1v8.77h-4.1zM351.43 1425.68h4.1v22.32h-4.1zM371.79 1415.31h4.1v26.71h-4.1zM376.88 1426.47h4.1v54.21h-4.1zM381.97 1391h4.1v96.06h-4.1zM387.07 1413.72h4.1v62.18h-4.1zM397.25 1443.22h4.1v61.38h-4.1zM409.95 1333.2h4.1v140.71h-4.1zM415.07 1488.66h4.1v9.57h-4.1zM430.43 1443.22h4.1v14.75h-4.1zM466.27 1303.31h4.1v192.52h-4.1zM471.39 1488.66h4.1v10.36h-4.1zM476.51 1488.26h4.1v11.56h-4.1zM486.75 1334h4.1v142.7h-4.1zM491.87 1496.63h4.1v1.99h-4.1zM502.11 1481.08h4.1v10.36h-4.1zM507.23 1471.52h4.1v10.76h-4.1zM517.47 1463.54h4.1v28.3h-4.1zM632 1500.22h4.1v4.38h-4.1zM647.34 1499.02h4.1v5.58h-4.1zM652.45 1501.41h4.1v3.19h-4.1zM657.56 1360.31h4.1v134.73h-4.1zM683.13 1501.41h4.1v3.19h-4.1zM708.7 1411.73h4.1v86.1h-4.1zM718.93 1425.68h4.1v68.16h-4.1zM734.27 1500.61h4.1v3.99h-4.1zM759.83 1427.27h4.1v70.95h-4.1zM764.95 1499.42h4.1v5.18h-4.1zM770.06 1499.42h4.1v5.18h-4.1zM775.17 1364.29h4.1v140.31h-4.1zM780.29 1335.99h4.1v164.62h-4.1zM810.97 1418.9h4.1v79.32h-4.1zM826.31 1452.78h4.1v51.82h-4.1zM867.22 1455.17h4.1v49.43h-4.1zM877.44 1499.02h4.1v5.58h-4.1zM897.9 1275.4h4.1v229.19h-4.1zM903.01 1446.8h4.1v57.8h-4.1zM908.12 1486.66h4.1v17.94h-4.1zM918.35 1327.62h4.1v161.03h-4.1zM930.95 1499.82h4.1v4.78h-4.1zM936.07 1499.02h4.1v5.58h-4.1zM941.19 1498.22h4.1v6.38h-4.1zM961.66 1414.12h4.1v51.42h-4.1zM977.02 1471.91h4.1v24.71h-4.1zM982.14 1440.03h4.1v57.8h-4.1zM987.26 1459.96h4.1v39.06h-4.1zM992.38 1462.35h4.1v39.06h-4.1zM997.5 1416.11h4.1v88.49h-4.1zM1002.62 1395.78h4.1v108.82h-4.1zM1012.86 1252.29h4.1v187.74h-4.1zM1028.21 1268.63h4.1v182.16h-4.1zM1033.33 1278.59h4.1v166.61h-4.1zM1038.45 1247.9h4.1v176.58h-4.1zM1043.57 1253.08h4.1v193.72h-4.1zM1053.81 1494.24h4.1v7.17h-4.1zM1058.93 1489.85h4.1v7.17h-4.1zM1064.05 1322.84h4.1v126.75h-4.1zM1069.17 1392.59h4.1v83.31h-4.1zM1079.4 1296.13h4.1v155.45h-4.1zM1084.52 1269.82h4.1v217.64h-4.1zM1089.64 1456.77h4.1v29.9h-4.1zM1099.88 1298.52h4.1v189.73h-4.1zM1110.12 1302.91h4.1v115.99h-4.1zM1125.48 1295.73h4.1v94.07h-4.1zM1145.95 1455.97h4.1v39.86h-4.1zM1151.07 1398.97h4.1v87.69h-4.1zM1161.31 1200.87h4.1v264.67h-4.1zM1186.9 1387.81h4.1v110.41h-4.1zM1192.02 1450.39h4.1v54.21h-4.1zM1202.26 1444.41h4.1v56.6h-4.1zM1207.38 1398.17h4.1v72.55h-4.1zM1232.98 1489.85h4.1v4.78h-4.1zM1238.1 1287.36h4.1v199.3h-4.1zM1258.57 1478.29h4.1v20.73h-4.1zM1273.93 1265.44h4.1v170.6h-4.1zM1279.05 1263.05h4.1v121.57h-4.1zM1284.17 1112.38h4.1v392.22h-4.1zM1289.29 1275.01h4.1v167.41h-4.1zM1294.4 1500.61h4.1v3.99h-4.1zM1299.52 1466.33h4.1v31.89h-4.1zM1309.76 1466.73h4.1v31.49h-4.1zM1320 1470.72h4.1v28.3h-4.1zM1325.12 1277.4h4.1v212.45h-4.1zM1340.48 1231.56h4.1v255.9h-4.1zM1360.95 1451.98h4.1v11.16h-4.1zM1366.07 1491.45h4.1v13.15h-4.1zM1371.19 1492.64h4.1v11.96h-4.1zM1376.31 1473.51h4.1v31.09h-4.1zM1381.43 1483.08h4.1v21.52h-4.1zM1386.55 1498.22h4.1v6.38h-4.1zM1396.79 1495.03h4.1v9.57h-4.1zM1417.26 1388.61h4.1v115.99h-4.1zM1422.38 1255.87h4.1v243.94h-4.1zM1427.5 1500.22h4.1v4.38h-4.1zM1432.62 1369.87h4.1v126.75h-4.1zM1442.86 1498.22h4.1v6.38h-4.1zM1447.98 1405.75h4.1v95.66h-4.1zM1453.1 1250.29h4.1v239.56h-4.1zM1478.69 1430.86h4.1v37.87h-4.1zM1509.41 1403.75h4.1v85.7h-4.1zM1519.64 1488.66h4.1v5.98h-4.1zM1540.12 1466.33h4.1v38.27h-4.1zM1560.6 1498.22h4.1v6.38h-4.1zM1565.72 1497.03h4.1v7.57h-4.1zM1570.84 1493.84h4.1v4.38h-4.1zM1575.95 1491.45h4.1v13.15h-4.1zM1591.31 1501.01h4.1v1.59h-4.1zM1596.43 1436.84h4.1v46.64h-4.1zM1644.75 1492.64h4.1v8.77h-4.1zM1649.87 1395.78h4.1v98.06h-4.1zM1660.1 1481.08h4.1v17.94h-4.1zM1665.22 1481.08h4.1v15.55h-4.1zM1670.33 1344.36h4.1v148.68h-4.1zM1685.68 1316.46h4.1v143.89h-4.1zM1695.92 1499.02h4.1v5.58h-4.1zM1706.15 1481.08h4.1v23.52h-4.1zM1721.5 1487.46h4.1v17.14h-4.1zM1731.73 1500.61h4.1v3.99h-4.1zM1741.97 1435.24h4.1v69.36h-4.1zM1772.67 1411.73h4.1v75.73h-4.1zM1777.78 1495.83h4.1v5.18h-4.1zM1782.9 1495.03h4.1v5.98h-4.1zM1788.02 1501.41h4.1v3.19h-4.1zM1793.13 1478.29h4.1v16.74h-4.1zM1798.25 1414.12h4.1v90.48h-4.1zM1808.48 1497.82h4.1v6.78h-4.1zM1813.6 1492.64h4.1v7.17h-4.1zM1823.83 1499.82h4.1v4.78h-4.1zM1844.3 1477.89h4.1v3.19h-4.1zM1849.42 1477.1h4.1v1.99h-4.1zM1859.65 1117.96h4.1v386.64h-4.1zM1869.88 1491.45h4.1v13.15h-4.1zM1880.12 1109.99h4.1v394.61h-4.1zM1890.35 1474.7h4.1v13.95h-4.1zM1895.47 1425.28h4.1v70.55h-4.1zM1910.82 1425.28h4.1v74.94h-4.1zM1926.17 1497.82h4.1v3.59h-4.1zM1931.28 1488.26h4.1v11.96h-4.1zM1936.4 1495.03h4.1v3.59h-4.1zM1941.52 1495.03h4.1v3.59h-4.1zM1946.63 1488.66h4.1v12.36h-4.1zM1951.75 1430.86h4.1v68.96h-4.1zM1956.87 1485.07h4.1v14.75h-4.1zM1961.98 1500.61h4.1v3.99h-4.1zM1967.1 1152.64h4.1v351.96h-4.1zM1987.57 1407.34h4.1v75.73h-4.1zM1992.68 1412.12h4.1v76.13h-4.1zM1997.8 1423.29h4.1v71.75h-4.1zM2002.92 1391.8h4.1v106.43h-4.1zM2008.03 1391.8h4.1v84.1h-4.1zM2013.15 1461.15h4.1v27.5h-4.1zM2023.38 1244.71h4.1v180.57h-4.1zM2033.62 1477.1h4.1v27.5h-4.1zM2048.97 1328.82h4.1v125.96h-4.1zM2059.2 1338.38h4.1v116.79h-4.1zM2064.32 1493.04h4.1v11.56h-4.1zM2069.43 1310.88h4.1v188.94h-4.1z"/>
<path fill="#fcc073" d="M195.62 1245.91h4.1v9.57h-4.1zM257.12 1319.65h4.1v12.36h-4.1zM356.52 1197.28h4.1v307.32h-4.1zM361.61 1204.06h4.1v300.54h-4.1zM366.7 1198.87h4.1v305.73h-4.1zM392.16 1186.52h4.1v318.08h-4.1zM397.25 1360.31h4.1v82.91h-4.1zM420.19 1311.68h4.1v192.92h-4.1zM425.31 1350.74h4.1v153.86h-4.1zM435.55 1397.38h4.1v107.22h-4.1zM440.67 1408.54h4.1v96.06h-4.1zM445.79 1387.41h4.1v117.19h-4.1zM450.91 1350.74h4.1v153.86h-4.1zM456.03 1391.8h4.1v112.8h-4.1zM481.63 1214.82h4.1v289.78h-4.1zM496.99 1171.37h4.1v333.23h-4.1zM527.71 1201.66h4.1v302.94h-4.1zM532.83 1336.39h4.1v168.21h-4.1zM537.95 1174.56h4.1v330.04h-4.1zM543.07 1491.45h4.1v13.15h-4.1zM548.19 1443.61h4.1v60.99h-4.1zM553.31 1365.89h4.1v138.71h-4.1zM563.55 1310.08h4.1v194.52h-4.1zM575.75 1392.19h4.1v112.41h-4.1zM580.86 1286.17h4.1v218.43h-4.1zM585.98 1384.62h4.1v119.98h-4.1zM591.09 1418.9h4.1v85.7h-4.1zM596.2 1483.47h4.1v21.13h-4.1zM601.32 1422.49h4.1v82.11h-4.1zM606.43 1220.4h4.1v284.2h-4.1zM611.54 1194.09h4.1v310.51h-4.1zM616.66 1473.91h4.1v30.69h-4.1zM621.77 1239.93h4.1v264.67h-4.1zM626.88 1466.73h4.1v37.87h-4.1zM662.68 1499.02h4.1v5.58h-4.1zM667.79 1359.51h4.1v145.09h-4.1zM672.91 1323.64h4.1v180.96h-4.1zM678.02 1200.07h4.1v304.53h-4.1zM688.25 1189.71h4.1v314.89h-4.1zM693.36 1155.43h4.1v349.17h-4.1zM698.47 1183.73h4.1v320.87h-4.1zM703.59 1191.7h4.1v312.9h-4.1zM713.81 1432.05h4.1v72.55h-4.1zM724.04 1194.49h4.1v310.11h-4.1zM729.15 1455.97h4.1v48.63h-4.1zM744.49 1316.46h4.1v188.14h-4.1zM749.61 1195.29h4.1v309.31h-4.1zM754.72 1199.67h4.1v304.93h-4.1zM785.4 1436.04h4.1v68.56h-4.1zM790.51 1332.01h4.1v172.59h-4.1zM795.63 1217.21h4.1v287.39h-4.1zM800.74 1330.01h4.1v174.59h-4.1zM816.08 1377.05h4.1v127.55h-4.1zM821.19 1452.78h4.1v51.82h-4.1zM831.42 1464.34h4.1v40.26h-4.1zM836.54 1159.01h4.1v345.59h-4.1zM841.65 1413.72h4.1v90.88h-4.1zM846.76 1219.6h4.1v285h-4.1zM851.88 1200.07h4.1v304.53h-4.1zM856.99 1497.82h4.1v6.78h-4.1zM862.1 1223.99h4.1v280.61h-4.1zM872.33 1315.26h4.1v49.03h-4.1zM882.56 1373.06h4.1v66.17h-4.1zM887.67 1309.68h4.1v54.61h-4.1zM892.78 1375.05h4.1v14.75h-4.1zM913.24 1210.83h4.1v293.77h-4.1zM946.31 1219.6h4.1v285h-4.1zM951.43 1261.85h4.1v242.75h-4.1zM956.55 1230.76h4.1v273.84h-4.1zM961.66 1412.12h4.1v1.99h-4.1zM966.78 1245.51h4.1v259.09h-4.1zM971.9 1251.09h4.1v253.51h-4.1zM1007.74 1373.06h4.1v131.54h-4.1zM1017.97 1432.85h4.1v71.75h-4.1zM1023.09 1187.71h4.1v316.89h-4.1zM1048.69 1499.82h4.1v4.78h-4.1zM1053.81 1492.64h4.1v1.59h-4.1zM1074.28 1263.05h4.1v241.55h-4.1zM1094.76 1470.72h4.1v33.88h-4.1zM1120.36 1404.15h4.1v100.45h-4.1zM1135.71 1448.8h4.1v55.8h-4.1zM1140.83 1238.34h4.1v266.26h-4.1zM1151.07 1369.08h4.1v29.89h-4.1zM1171.55 1336.39h4.1v168.21h-4.1zM1197.14 1322.44h4.1v182.16h-4.1zM1207.38 1394.98h4.1v3.19h-4.1zM1212.5 1227.17h4.1v277.43h-4.1zM1217.62 1501.01h4.1v3.59h-4.1zM1243.21 1420.1h4.1v84.5h-4.1zM1248.33 1171.37h4.1v333.23h-4.1zM1253.45 1172.57h4.1v332.03h-4.1zM1263.69 1328.02h4.1v176.58h-4.1zM1314.88 1214.02h4.1v290.58h-4.1zM1330.24 1327.62h4.1v176.98h-4.1zM1335.36 1241.13h4.1v263.47h-4.1zM1340.48 1229.57h4.1v1.99h-4.1zM1345.6 1269.82h4.1v234.78h-4.1zM1350.71 1204.45h4.1v300.15h-4.1zM1355.83 1201.66h4.1v302.94h-4.1zM1360.95 1447.6h4.1v4.38h-4.1zM1391.67 1337.19h4.1v167.41h-4.1zM1401.91 1277.4h4.1v227.2h-4.1zM1407.02 1368.68h4.1v135.92h-4.1zM1412.14 1499.82h4.1v4.78h-4.1zM1422.38 1248.7h4.1v7.17h-4.1zM1432.62 1343.57h4.1v26.31h-4.1zM1437.74 1500.22h4.1v4.38h-4.1zM1447.98 1353.13h4.1v52.62h-4.1zM1453.1 1221.99h4.1v28.3h-4.1zM1463.33 1442.42h4.1v62.18h-4.1zM1468.45 1500.22h4.1v4.38h-4.1zM1483.81 1207.24h4.1v297.36h-4.1zM1488.93 1223.99h4.1v280.61h-4.1zM1494.05 1349.15h4.1v155.45h-4.1zM1499.17 1188.11h4.1v316.49h-4.1zM1504.29 1256.67h4.1v247.93h-4.1zM1529.88 1416.11h4.1v88.49h-4.1zM1535 1447.6h4.1v57h-4.1zM1550.36 1500.22h4.1v4.38h-4.1zM1555.48 1500.61h4.1v3.99h-4.1zM1581.07 1408.94h4.1v95.66h-4.1zM1586.19 1197.28h4.1v307.32h-4.1zM1614.05 1173.36h4.1v331.24h-4.1zM1629.4 1235.54h4.1v269.06h-4.1zM1634.52 1456.77h4.1v47.83h-4.1zM1639.63 1351.14h4.1v153.46h-4.1zM1654.98 1318.06h4.1v186.54h-4.1zM1675.45 1351.14h4.1v48.23h-4.1zM1680.57 1436.84h4.1v67.76h-4.1zM1690.8 1183.73h4.1v320.87h-4.1zM1706.15 1477.1h4.1v3.99h-4.1zM1711.27 1276.2h4.1v228.4h-4.1zM1716.38 1200.87h4.1v303.73h-4.1zM1721.5 1445.21h4.1v42.25h-4.1zM1731.73 1464.34h4.1v36.27h-4.1zM1736.85 1318.06h4.1v186.54h-4.1zM1757.32 1335.19h4.1v42.25h-4.1zM1762.43 1466.33h4.1v38.27h-4.1zM1767.55 1467.53h4.1v37.07h-4.1zM1803.37 1298.13h4.1v206.47h-4.1zM1808.48 1429.66h4.1v68.16h-4.1zM1813.6 1485.07h4.1v7.57h-4.1zM1823.83 1496.63h4.1v3.19h-4.1zM1828.95 1207.24h4.1v297.36h-4.1zM1834.07 1166.99h4.1v337.61h-4.1zM1864.77 1280.99h4.1v223.61h-4.1zM1885.23 1288.56h4.1v216.04h-4.1zM1890.35 1457.96h4.1v16.74h-4.1zM1895.47 1406.54h4.1v18.73h-4.1zM1905.7 1461.95h4.1v42.65h-4.1zM1910.82 1408.54h4.1v16.74h-4.1zM1915.93 1396.18h4.1v108.42h-4.1zM1972.22 1198.87h4.1v305.73h-4.1zM1977.33 1479.09h4.1v25.51h-4.1zM1982.45 1223.99h4.1v280.61h-4.1zM1987.57 1401.36h4.1v5.98h-4.1zM2008.03 1385.82h4.1v5.98h-4.1zM2033.62 1473.51h4.1v3.59h-4.1zM2054.08 1301.71h4.1v202.89h-4.1zM2074.55 1326.43h4.1v178.17h-4.1z"/>
<path fill="#f58220" d="M111.84 1477.1h4.1v4.78h-4.1zM116.93 1255.47h4.1v83.31h-4.1zM122.03 1371.47h4.1v23.92h-4.1zM167.85 1367.48h4.1v6.78h-4.1zM180.25 1376.65h4.1v7.57h-4.1zM185.38 1431.26h4.1v3.19h-4.1zM190.5 1417.31h4.1v2.39h-4.1zM195.62 1239.93h4.1v5.98h-4.1zM200.75 1465.54h4.1v33.88h-4.1zM205.88 1490.65h4.1v10.76h-4.1zM211 1488.26h4.1v8.37h-4.1zM216.12 1223.99h4.1v5.58h-4.1zM221.25 1490.65h4.1v6.38h-4.1zM226.38 1432.45h4.1v20.73h-4.1zM231.5 1462.75h4.1v5.58h-4.1zM241.75 1484.67h4.1v12.76h-4.1zM246.88 1487.06h4.1v12.36h-4.1zM252 1490.65h4.1v6.78h-4.1zM257.12 1310.88h4.1v8.77h-4.1zM262.25 1300.12h4.1v11.16h-4.1zM267.38 1489.05h4.1v12.36h-4.1zM272.5 1428.87h4.1v75.73h-4.1zM277.62 1418.9h4.1v79.32h-4.1zM282.75 1474.31h4.1v22.72h-4.1zM287.88 1476.3h4.1v21.52h-4.1zM293 1468.33h4.1v23.12h-4.1zM298.12 1450.79h4.1v35.08h-4.1zM303.25 1483.08h4.1v15.15h-4.1zM308.38 1461.15h4.1v43.45h-4.1zM313.5 1473.91h4.1v5.58h-4.1zM318.62 1465.14h4.1v6.38h-4.1zM323.75 1419.3h4.1v4.78h-4.1zM336.15 1391.8h4.1v5.18h-4.1zM341.24 1399.37h4.1v3.59h-4.1zM356.52 1192.89h4.1v4.38h-4.1zM361.61 1197.28h4.1v6.78h-4.1zM366.7 1195.29h4.1v3.59h-4.1zM371.79 1411.73h4.1v3.59h-4.1zM376.88 1419.3h4.1v7.17h-4.1zM387.07 1401.76h4.1v11.96h-4.1zM392.16 1160.21h4.1v26.31h-4.1zM409.95 1321.24h4.1v11.96h-4.1zM415.07 1481.48h4.1v7.17h-4.1zM420.19 1267.83h4.1v43.85h-4.1zM425.31 1341.17h4.1v9.57h-4.1zM435.55 1353.13h4.1v44.24h-4.1zM440.67 1357.52h4.1v51.02h-4.1zM445.79 1360.31h4.1v27.1h-4.1zM450.91 1330.01h4.1v20.73h-4.1zM456.03 1363.5h4.1v28.3h-4.1zM471.39 1476.7h4.1v11.96h-4.1zM476.51 1475.9h4.1v12.36h-4.1zM481.63 1176.55h4.1v38.27h-4.1zM491.87 1488.66h4.1v7.97h-4.1zM496.99 1149.45h4.1v21.92h-4.1zM502.11 1469.52h4.1v11.56h-4.1zM507.23 1455.97h4.1v15.55h-4.1zM512.35 1495.03h4.1v9.57h-4.1zM517.47 1424.48h4.1v39.06h-4.1zM522.59 1491.84h4.1v12.76h-4.1zM527.71 1157.02h4.1v44.64h-4.1zM532.83 1279.79h4.1v56.6h-4.1zM537.95 1163.8h4.1v10.76h-4.1zM543.07 1462.35h4.1v29.1h-4.1zM548.19 1425.68h4.1v17.94h-4.1zM553.31 1333.2h4.1v32.69h-4.1zM558.43 1495.03h4.1v9.57h-4.1zM563.55 1288.56h4.1v21.52h-4.1zM575.75 1288.96h4.1v103.24h-4.1zM580.86 1277.8h4.1v8.37h-4.1zM585.98 1371.87h4.1v12.76h-4.1zM596.2 1348.75h4.1v134.73h-4.1zM601.32 1377.05h4.1v45.44h-4.1zM606.43 1194.49h4.1v25.91h-4.1zM611.54 1178.94h4.1v15.15h-4.1zM616.66 1381.43h4.1v92.48h-4.1zM621.77 1157.42h4.1v82.51h-4.1zM626.88 1334h4.1v132.73h-4.1zM632 1471.91h4.1v28.3h-4.1zM647.34 1482.28h4.1v16.74h-4.1zM652.45 1495.83h4.1v5.58h-4.1zM662.68 1410.53h4.1v88.49h-4.1zM667.79 1336.39h4.1v23.12h-4.1zM672.91 1319.25h4.1v4.38h-4.1zM678.02 1190.9h4.1v9.17h-4.1zM683.13 1496.63h4.1v4.78h-4.1zM688.25 1160.61h4.1v29.1h-4.1zM703.59 1141.48h4.1v50.22h-4.1zM708.7 1275.4h4.1v136.32h-4.1zM713.81 1384.22h4.1v47.83h-4.1zM718.93 1411.73h4.1v13.95h-4.1zM729.15 1301.31h4.1v154.66h-4.1zM734.27 1492.64h4.1v7.97h-4.1zM744.49 1274.21h4.1v42.25h-4.1zM749.61 1168.98h4.1v26.31h-4.1zM754.72 1194.49h4.1v5.18h-4.1zM759.83 1423.68h4.1v3.59h-4.1zM764.95 1495.83h4.1v3.59h-4.1zM770.06 1495.83h4.1v3.59h-4.1zM785.4 1282.58h4.1v153.46h-4.1zM790.51 1324.43h4.1v7.57h-4.1zM795.63 1170.17h4.1v47.03h-4.1zM800.74 1243.12h4.1v86.89h-4.1zM805.85 1459.16h4.1v45.44h-4.1zM816.08 1355.92h4.1v21.13h-4.1zM831.42 1241.13h4.1v223.22h-4.1zM836.54 1143.07h4.1v15.94h-4.1zM841.65 1324.83h4.1v88.89h-4.1zM846.76 1210.83h4.1v8.77h-4.1zM851.88 1155.82h4.1v44.24h-4.1zM856.99 1269.82h4.1v228h-4.1zM862.1 1194.09h4.1v29.89h-4.1zM872.33 1300.52h4.1v14.75h-4.1zM877.44 1495.03h4.1v3.99h-4.1zM882.56 1316.06h4.1v57h-4.1zM887.67 1289.75h4.1v19.93h-4.1zM892.78 1332.8h4.1v42.25h-4.1zM903.01 1441.22h4.1v5.58h-4.1zM908.12 1475.1h4.1v11.56h-4.1zM913.24 1182.53h4.1v28.3h-4.1zM918.35 1319.65h4.1v7.97h-4.1zM936.07 1489.85h4.1v9.17h-4.1zM941.19 1488.66h4.1v9.57h-4.1zM946.31 1208.84h4.1v10.76h-4.1zM951.43 1228.37h4.1v33.48h-4.1zM956.55 1217.61h4.1v13.15h-4.1zM966.78 1208.44h4.1v37.07h-4.1zM971.9 1210.43h4.1v40.66h-4.1zM987.26 1455.97h4.1v3.99h-4.1zM1007.74 1287.36h4.1v85.7h-4.1zM1012.86 1249.1h4.1v3.19h-4.1zM1017.97 1426.47h4.1v6.38h-4.1zM1023.09 1173.36h4.1v14.35h-4.1zM1028.21 1263.05h4.1v5.58h-4.1zM1033.33 1275.01h4.1v3.59h-4.1zM1043.57 1244.71h4.1v8.37h-4.1zM1053.81 1482.28h4.1v10.36h-4.1zM1058.93 1478.29h4.1v11.56h-4.1zM1064.05 1264.64h4.1v58.2h-4.1zM1069.17 1371.87h4.1v20.73h-4.1zM1074.28 1214.82h4.1v48.23h-4.1zM1079.4 1292.54h4.1v3.59h-4.1zM1084.52 1262.25h4.1v7.57h-4.1zM1094.76 1372.66h4.1v98.06h-4.1zM1115.24 1498.22h4.1v6.38h-4.1zM1120.36 1332.8h4.1v71.35h-4.1zM1125.48 1271.02h4.1v24.71h-4.1zM1130.59 1316.46h4.1v39.86h-4.1zM1135.71 1338.38h4.1v110.41h-4.1zM1140.83 1232.36h4.1v5.98h-4.1zM1145.95 1449.59h4.1v6.38h-4.1zM1151.07 1352.73h4.1v16.34h-4.1zM1161.31 1157.02h4.1v43.85h-4.1zM1171.55 1210.83h4.1v125.56h-4.1zM1186.9 1384.22h4.1v3.59h-4.1zM1192.02 1430.86h4.1v19.53h-4.1zM1197.14 1217.21h4.1v105.23h-4.1zM1202.26 1440.43h4.1v3.99h-4.1zM1207.38 1379.04h4.1v15.94h-4.1zM1212.5 1222.79h4.1v4.38h-4.1zM1217.62 1410.53h4.1v90.48h-4.1zM1227.86 1500.61h4.1v3.99h-4.1zM1232.98 1407.74h4.1v82.11h-4.1zM1238.1 1280.99h4.1v6.38h-4.1zM1243.21 1342.77h4.1v77.33h-4.1zM1248.33 1141.48h4.1v29.89h-4.1zM1253.45 1156.22h4.1v16.34h-4.1zM1258.57 1469.52h4.1v8.77h-4.1zM1263.69 1286.17h4.1v41.85h-4.1zM1273.93 1257.87h4.1v7.57h-4.1zM1279.05 1243.52h4.1v19.53h-4.1zM1284.17 1108.79h4.1v3.59h-4.1zM1289.29 1232.36h4.1v42.65h-4.1zM1299.52 1457.57h4.1v8.77h-4.1zM1309.76 1461.95h4.1v4.78h-4.1zM1314.88 1171.37h4.1v42.65h-4.1zM1320 1466.33h4.1v4.38h-4.1zM1325.12 1273.81h4.1v3.59h-4.1zM1330.24 1312.87h4.1v14.75h-4.1zM1335.36 1225.98h4.1v15.15h-4.1zM1345.6 1232.75h4.1v37.07h-4.1zM1350.71 1197.28h4.1v7.17h-4.1zM1355.83 1187.71h4.1v13.95h-4.1zM1371.19 1488.26h4.1v4.38h-4.1zM1381.43 1479.89h4.1v3.19h-4.1zM1391.67 1260.26h4.1v76.93h-4.1zM1401.91 1186.92h4.1v90.48h-4.1zM1407.02 1232.75h4.1v135.92h-4.1zM1412.14 1430.46h4.1v69.36h-4.1zM1417.26 1378.24h4.1v10.36h-4.1zM1422.38 1242.32h4.1v6.38h-4.1zM1427.5 1488.26h4.1v11.96h-4.1zM1432.62 1339.58h4.1v3.99h-4.1zM1437.74 1460.36h4.1v39.86h-4.1zM1442.86 1476.7h4.1v21.52h-4.1zM1447.98 1344.36h4.1v8.77h-4.1zM1468.45 1483.08h4.1v17.14h-4.1zM1473.57 1483.08h4.1v17.54h-4.1zM1478.69 1425.68h4.1v5.18h-4.1zM1483.81 1183.33h4.1v23.92h-4.1zM1488.93 1200.07h4.1v23.92h-4.1zM1494.05 1288.16h4.1v60.99h-4.1zM1499.17 1176.55h4.1v11.56h-4.1zM1504.29 1214.02h4.1v42.65h-4.1zM1509.41 1380.24h4.1v23.52h-4.1zM1514.53 1497.03h4.1v7.57h-4.1zM1519.64 1471.91h4.1v16.74h-4.1zM1524.76 1494.63h4.1v9.96h-4.1zM1529.88 1369.08h4.1v47.03h-4.1zM1535 1442.02h4.1v5.58h-4.1zM1540.12 1416.91h4.1v49.43h-4.1zM1555.48 1471.91h4.1v28.7h-4.1zM1560.6 1490.65h4.1v7.57h-4.1zM1565.72 1487.46h4.1v9.57h-4.1zM1570.84 1408.94h4.1v84.9h-4.1zM1575.95 1475.1h4.1v16.34h-4.1zM1581.07 1374.26h4.1v34.68h-4.1zM1591.31 1474.7h4.1v26.31h-4.1zM1596.43 1412.92h4.1v23.92h-4.1zM1614.05 1170.57h4.1v2.79h-4.1zM1619.17 1495.03h4.1v9.57h-4.1zM1624.28 1499.02h4.1v5.58h-4.1zM1629.4 1227.97h4.1v7.57h-4.1zM1634.52 1372.66h4.1v84.1h-4.1zM1644.75 1486.26h4.1v6.38h-4.1zM1654.98 1216.41h4.1v101.64h-4.1zM1660.1 1470.72h4.1v10.36h-4.1zM1665.22 1461.95h4.1v19.13h-4.1zM1675.45 1269.82h4.1v81.31h-4.1zM1680.57 1423.29h4.1v13.55h-4.1zM1685.68 1305.7h4.1v10.76h-4.1zM1690.8 1174.96h4.1v8.77h-4.1zM1695.92 1493.84h4.1v5.18h-4.1zM1706.15 1471.52h4.1v5.58h-4.1zM1711.27 1256.67h4.1v19.53h-4.1zM1716.38 1192.1h4.1v8.77h-4.1zM1721.5 1435.24h4.1v9.96h-4.1zM1731.73 1428.47h4.1v35.87h-4.1zM1736.85 1308.89h4.1v9.17h-4.1zM1757.32 1324.43h4.1v10.76h-4.1zM1762.43 1461.95h4.1v4.38h-4.1zM1767.55 1353.13h4.1v114.4h-4.1zM1772.67 1403.75h4.1v7.97h-4.1zM1788.02 1498.22h4.1v3.19h-4.1zM1793.13 1475.9h4.1v2.39h-4.1zM1803.37 1295.73h4.1v2.39h-4.1zM1808.48 1414.91h4.1v14.75h-4.1zM1813.6 1481.48h4.1v3.59h-4.1zM1818.72 1498.22h4.1v6.38h-4.1zM1828.95 1184.52h4.1v22.72h-4.1zM1834.07 1157.02h4.1v9.97h-4.1zM1839.18 1499.82h4.1v4.78h-4.1zM1844.3 1461.95h4.1v15.94h-4.1zM1849.42 1438.03h4.1v39.06h-4.1zM1854.53 1500.61h4.1v3.99h-4.1zM1859.65 1111.18h4.1v6.78h-4.1zM1864.77 1278.59h4.1v2.39h-4.1zM1885.23 1249.89h4.1v38.66h-4.1zM1890.35 1450.39h4.1v7.57h-4.1zM1895.47 1255.87h4.1v150.67h-4.1zM1900.58 1469.52h4.1v35.08h-4.1zM1905.7 1382.23h4.1v79.72h-4.1zM1910.82 1329.61h4.1v78.92h-4.1zM1915.93 1389.8h4.1v6.38h-4.1zM1921.05 1500.61h4.1v3.99h-4.1zM1941.52 1491.45h4.1v3.59h-4.1zM1961.98 1497.82h4.1v2.79h-4.1zM1967.1 1112.38h4.1v40.26h-4.1zM1972.22 1154.63h4.1v44.24h-4.1zM1977.33 1471.52h4.1v7.57h-4.1zM1982.45 1192.1h4.1v31.89h-4.1zM1987.57 1373.06h4.1v28.3h-4.1zM1992.68 1387.41h4.1v24.71h-4.1zM1997.8 1418.1h4.1v5.18h-4.1zM2008.03 1353.93h4.1v31.89h-4.1zM2018.27 1436.04h4.1v68.56h-4.1zM2033.62 1468.33h4.1v5.18h-4.1zM2048.97 1232.36h4.1v96.46h-4.1zM2054.08 1272.22h4.1v29.5h-4.1zM2059.2 1276.6h4.1v61.78h-4.1zM2069.43 1304.5h4.1v6.38h-4.1zM2074.55 1306.5h4.1v19.93h-4.1z"/>
<path fill="#c8b2d6" d="M127.12 1495.83h4.1v4.78h-4.1zM142.39 1278.2h4.1v174.59h-4.1zM167.85 1298.92h4.1v68.56h-4.1zM180.25 1318.85h4.1v57.8h-4.1zM185.38 1360.31h4.1v70.95h-4.1zM190.5 1356.32h4.1v60.99h-4.1zM195.62 1231.16h4.1v8.77h-4.1zM216.12 1208.44h4.1v15.55h-4.1zM257.12 1286.17h4.1v24.71h-4.1zM262.25 1286.57h4.1v13.55h-4.1zM277.62 1411.73h4.1v7.17h-4.1zM298.12 1446.8h4.1v3.99h-4.1zM303.25 1479.09h4.1v3.99h-4.1zM308.38 1456.77h4.1v4.38h-4.1zM313.5 1471.91h4.1v1.99h-4.1zM318.62 1463.15h4.1v1.99h-4.1zM323.75 1411.73h4.1v7.57h-4.1zM336.15 1365.09h4.1v26.71h-4.1zM341.24 1395.78h4.1v3.59h-4.1zM376.88 1405.35h4.1v13.95h-4.1zM381.97 1377.85h4.1v13.15h-4.1zM387.07 1376.65h4.1v25.11h-4.1zM392.16 1135.5h4.1v24.71h-4.1zM397.25 1331.21h4.1v29.1h-4.1zM471.39 1471.91h4.1v4.78h-4.1zM476.51 1471.91h4.1v3.99h-4.1zM481.63 1141.48h4.1v35.08h-4.1zM486.75 1331.21h4.1v2.79h-4.1zM491.87 1485.07h4.1v3.59h-4.1zM496.99 1126.73h4.1v22.72h-4.1zM502.11 1464.34h4.1v5.18h-4.1zM507.23 1445.21h4.1v10.76h-4.1zM517.47 1360.71h4.1v63.78h-4.1zM522.59 1111.98h4.1v379.87h-4.1zM527.71 1129.52h4.1v27.5h-4.1zM532.83 1116.76h4.1v163.03h-4.1zM537.95 1148.25h4.1v15.55h-4.1zM543.07 1431.66h4.1v30.69h-4.1zM548.19 1111.98h4.1v313.7h-4.1zM553.31 1111.98h4.1v221.22h-4.1zM563.55 1125.53h4.1v163.03h-4.1zM575.75 1143.87h4.1v145.09h-4.1zM580.86 1269.82h4.1v7.97h-4.1zM585.98 1341.57h4.1v30.29h-4.1zM596.2 1157.82h4.1v190.93h-4.1zM601.32 1126.73h4.1v250.32h-4.1zM606.43 1118.76h4.1v75.73h-4.1zM611.54 1131.11h4.1v47.83h-4.1zM616.66 1139.48h4.1v241.95h-4.1zM621.77 1123.94h4.1v33.48h-4.1zM626.88 1149.45h4.1v184.55h-4.1zM637.11 1153.83h4.1v350.77h-4.1zM657.56 1356.32h4.1v3.99h-4.1zM662.68 1285.37h4.1v125.16h-4.1zM667.79 1318.06h4.1v18.34h-4.1zM672.91 1244.71h4.1v74.54h-4.1zM678.02 1164.2h4.1v26.71h-4.1zM688.25 1139.48h4.1v21.13h-4.1zM693.36 1148.25h4.1v7.17h-4.1zM698.47 1155.82h4.1v27.9h-4.1zM703.59 1117.16h4.1v24.31h-4.1zM708.7 1248.7h4.1v26.71h-4.1zM713.81 1121.94h4.1v262.28h-4.1zM718.93 1409.73h4.1v1.99h-4.1zM724.04 1180.54h4.1v13.95h-4.1zM729.15 1139.88h4.1v161.43h-4.1zM744.49 1198.48h4.1v75.73h-4.1zM749.61 1144.66h4.1v24.31h-4.1zM754.72 1174.56h4.1v19.93h-4.1zM785.4 1125.13h4.1v157.45h-4.1zM790.51 1306.5h4.1v17.94h-4.1zM795.63 1125.13h4.1v45.04h-4.1zM800.74 1155.43h4.1v87.69h-4.1zM805.85 1205.65h4.1v253.51h-4.1zM810.97 1412.92h4.1v5.98h-4.1zM816.08 1115.17h4.1v240.75h-4.1zM821.19 1450.39h4.1v2.39h-4.1zM831.42 1148.25h4.1v92.87h-4.1zM836.54 1129.52h4.1v13.55h-4.1zM841.65 1144.27h4.1v180.57h-4.1zM846.76 1202.06h4.1v8.77h-4.1zM851.88 1131.11h4.1v24.71h-4.1zM856.99 1185.72h4.1v84.1h-4.1zM862.1 1172.57h4.1v21.52h-4.1zM872.33 1151.84h4.1v148.68h-4.1zM882.56 1180.94h4.1v135.13h-4.1zM887.67 1138.29h4.1v151.47h-4.1zM892.78 1168.98h4.1v163.82h-4.1zM908.12 1466.73h4.1v8.37h-4.1zM913.24 1141.87h4.1v40.66h-4.1zM1007.74 1145.86h4.1v141.5h-4.1zM1017.97 1119.15h4.1v307.32h-4.1zM1023.09 1130.71h4.1v42.65h-4.1zM1028.21 1259.06h4.1v3.99h-4.1zM1043.57 1239.13h4.1v5.58h-4.1zM1053.81 1479.89h4.1v2.39h-4.1zM1058.93 1476.3h4.1v1.99h-4.1zM1064.05 1217.21h4.1v47.43h-4.1zM1079.4 1280.99h4.1v11.56h-4.1zM1084.52 1254.68h4.1v7.57h-4.1zM1089.64 1453.58h4.1v3.19h-4.1zM1094.76 1115.57h4.1v257.1h-4.1zM1120.36 1170.57h4.1v162.23h-4.1zM1125.48 1255.87h4.1v15.15h-4.1zM1130.59 1314.07h4.1v2.39h-4.1zM1135.71 1224.78h4.1v113.6h-4.1zM1140.83 1193.29h4.1v39.06h-4.1zM1145.95 1442.42h4.1v7.17h-4.1zM1151.07 1325.63h4.1v27.1h-4.1zM1161.31 1129.52h4.1v27.5h-4.1zM1171.55 1144.27h4.1v66.57h-4.1zM1186.9 1381.03h4.1v3.19h-4.1zM1197.14 1161.41h4.1v55.8h-4.1zM1207.38 1352.73h4.1v26.31h-4.1zM1212.5 1168.18h4.1v54.61h-4.1zM1217.62 1107.99h4.1v302.54h-4.1zM1232.98 1398.97h4.1v8.77h-4.1zM1238.1 1273.41h4.1v7.57h-4.1zM1243.21 1296.13h4.1v46.64h-4.1zM1248.33 1117.96h4.1v23.52h-4.1zM1253.45 1127.52h4.1v28.7h-4.1zM1258.57 1465.54h4.1v3.99h-4.1zM1263.69 1109.19h4.1v176.98h-4.1zM1273.93 1252.29h4.1v5.58h-4.1zM1279.05 1236.74h4.1v6.78h-4.1zM1289.29 1207.24h4.1v25.11h-4.1zM1299.52 1455.17h4.1v2.39h-4.1zM1309.76 1457.17h4.1v4.78h-4.1zM1314.88 1130.71h4.1v40.66h-4.1zM1320 1463.15h4.1v3.19h-4.1zM1325.12 1266.24h4.1v7.57h-4.1zM1391.67 1140.68h4.1v119.58h-4.1zM1401.91 1138.29h4.1v48.63h-4.1zM1407.02 1153.83h4.1v78.92h-4.1zM1412.14 1107.59h4.1v322.87h-4.1zM1422.38 1195.68h4.1v46.64h-4.1zM1427.5 1483.08h4.1v5.18h-4.1zM1432.62 1310.08h4.1v29.5h-4.1zM1437.74 1441.22h4.1v19.13h-4.1zM1442.86 1471.52h4.1v5.18h-4.1zM1447.98 1244.71h4.1v99.65h-4.1zM1453.1 1179.34h4.1v42.65h-4.1zM1463.33 1437.24h4.1v5.18h-4.1zM1468.45 1408.94h4.1v74.14h-4.1zM1473.57 1464.74h4.1v18.34h-4.1zM1499.17 1138.69h4.1v37.87h-4.1zM1509.41 1344.76h4.1v35.48h-4.1zM1529.88 1340.38h4.1v28.7h-4.1zM1535 1437.24h4.1v4.78h-4.1zM1581.07 1107.99h4.1v266.26h-4.1zM1586.19 1107.99h4.1v89.29h-4.1zM1596.43 1364.29h4.1v48.63h-4.1zM1614.05 1136.29h4.1v34.28h-4.1zM1629.4 1223.99h4.1v3.99h-4.1zM1634.52 1218.41h4.1v154.26h-4.1zM1639.63 1257.47h4.1v93.67h-4.1zM1649.87 1361.5h4.1v34.28h-4.1zM1654.98 1133.9h4.1v82.51h-4.1zM1675.45 1144.27h4.1v125.56h-4.1zM1680.57 1369.08h4.1v54.21h-4.1zM1685.68 1295.73h4.1v9.96h-4.1zM1690.8 1141.87h4.1v33.08h-4.1zM1711.27 1217.61h4.1v39.06h-4.1zM1716.38 1178.15h4.1v13.95h-4.1zM1721.5 1426.87h4.1v8.37h-4.1zM1731.73 1422.49h4.1v5.98h-4.1zM1736.85 1271.82h4.1v37.07h-4.1zM1741.97 1425.28h4.1v9.97h-4.1zM1757.32 1178.94h4.1v145.49h-4.1zM1762.43 1364.29h4.1v97.66h-4.1zM1767.55 1248.7h4.1v104.43h-4.1zM1772.67 1398.97h4.1v4.78h-4.1zM1803.37 1288.56h4.1v7.17h-4.1zM1808.48 1409.73h4.1v5.18h-4.1zM1828.95 1137.49h4.1v47.03h-4.1zM1834.07 1129.92h4.1v27.1h-4.1zM1844.3 1459.16h4.1v2.79h-4.1zM1859.65 1107.99h4.1v3.19h-4.1zM1864.77 1246.31h4.1v32.29h-4.1zM1895.47 1157.02h4.1v98.85h-4.1zM1900.58 1445.21h4.1v24.31h-4.1zM1905.7 1224.78h4.1v157.45h-4.1zM1910.82 1218.41h4.1v111.21h-4.1zM1915.93 1264.64h4.1v125.16h-4.1zM1972.22 1125.13h4.1v29.5h-4.1zM1977.33 1218.41h4.1v253.11h-4.1zM1982.45 1141.87h4.1v50.22h-4.1zM1987.57 1349.94h4.1v23.12h-4.1zM2008.03 1337.99h4.1v15.94h-4.1zM2013.15 1455.97h4.1v5.18h-4.1zM2018.27 1426.47h4.1v9.57h-4.1zM2033.62 1459.96h4.1v8.37h-4.1zM2048.97 1185.72h4.1v46.64h-4.1zM2054.08 1233.55h4.1v38.66h-4.1zM2059.2 1241.13h4.1v35.48h-4.1zM2069.43 1298.52h4.1v5.98h-4.1zM2074.55 1227.17h4.1v79.32h-4.1z"/>
<path fill="#6a3d9a" d="M356.52 1127.52h4.1v65.37h-4.1zM361.61 1129.92h4.1v67.36h-4.1zM366.7 1130.71h4.1v64.57h-4.1zM392.16 1108.39h4.1v27.1h-4.1zM420.19 1177.75h4.1v90.08h-4.1zM425.31 1312.08h4.1v29.1h-4.1zM435.55 1254.68h4.1v98.45h-4.1zM440.67 1208.84h4.1v148.68h-4.1zM445.79 1276.2h4.1v84.1h-4.1zM450.91 1258.66h4.1v71.35h-4.1zM456.03 1288.16h4.1v75.34h-4.1zM481.63 1108.79h4.1v32.69h-4.1zM496.99 1107.59h4.1v19.13h-4.1zM580.86 1264.24h4.1v5.58h-4.1zM585.98 1113.17h4.1v228.4h-4.1zM591.09 1155.03h4.1v263.87h-4.1zM611.54 1126.33h4.1v4.78h-4.1zM621.77 1106.8h4.1v17.14h-4.1zM667.79 1126.33h4.1v191.73h-4.1zM672.91 1113.97h4.1v130.74h-4.1zM693.36 1126.73h4.1v21.52h-4.1zM698.47 1154.23h4.1v1.59h-4.1zM703.59 1115.57h4.1v1.59h-4.1zM724.04 1166.99h4.1v13.55h-4.1zM749.61 1142.67h4.1v1.99h-4.1zM754.72 1172.96h4.1v1.59h-4.1zM790.51 1123.14h4.1v183.36h-4.1zM795.63 1122.34h4.1v2.79h-4.1zM821.19 1344.76h4.1v105.63h-4.1zM846.76 1192.1h4.1v9.96h-4.1zM851.88 1109.99h4.1v21.13h-4.1zM872.33 1120.75h4.1v31.09h-4.1zM882.56 1116.36h4.1v64.57h-4.1zM887.67 1115.57h4.1v22.72h-4.1zM892.78 1109.19h4.1v59.79h-4.1zM913.24 1109.99h4.1v31.89h-4.1zM946.31 1138.29h4.1v70.55h-4.1zM951.43 1148.25h4.1v80.12h-4.1zM956.55 1147.06h4.1v70.55h-4.1zM961.66 1408.54h4.1v3.59h-4.1zM966.78 1135.5h4.1v72.94h-4.1zM971.9 1146.26h4.1v64.17h-4.1zM1023.09 1109.19h4.1v21.52h-4.1zM1053.81 1474.7h4.1v5.18h-4.1zM1058.93 1473.51h4.1v2.79h-4.1zM1069.17 1368.68h4.1v3.19h-4.1zM1074.28 1164.99h4.1v49.82h-4.1zM1145.95 1441.22h4.1v1.2h-4.1zM1151.07 1322.44h4.1v3.19h-4.1zM1161.31 1127.52h4.1v1.99h-4.1zM1171.55 1115.57h4.1v28.7h-4.1zM1197.14 1151.44h4.1v9.96h-4.1zM1212.5 1160.61h4.1v7.57h-4.1zM1253.45 1111.18h4.1v16.34h-4.1zM1314.88 1108.79h4.1v21.92h-4.1zM1330.24 1240.33h4.1v72.55h-4.1zM1335.36 1137.09h4.1v88.89h-4.1zM1340.48 1226.78h4.1v2.79h-4.1zM1345.6 1142.67h4.1v90.08h-4.1zM1350.71 1141.48h4.1v55.8h-4.1zM1355.83 1129.52h4.1v58.2h-4.1zM1360.95 1445.21h4.1v2.39h-4.1zM1391.67 1133.9h4.1v6.78h-4.1zM1401.91 1133.9h4.1v4.38h-4.1zM1407.02 1152.64h4.1v1.2h-4.1zM1432.62 1304.5h4.1v5.58h-4.1zM1463.33 1427.67h4.1v9.57h-4.1zM1478.69 1423.68h4.1v1.99h-4.1zM1483.81 1127.52h4.1v55.8h-4.1zM1488.93 1137.09h4.1v62.98h-4.1zM1494.05 1172.57h4.1v115.59h-4.1zM1499.17 1110.38h4.1v28.3h-4.1zM1504.29 1134.3h4.1v79.72h-4.1zM1529.88 1332.8h4.1v7.57h-4.1zM1535 1418.1h4.1v19.13h-4.1zM1614.05 1107.99h4.1v28.3h-4.1zM1654.98 1131.91h4.1v1.99h-4.1zM1675.45 1119.15h4.1v25.11h-4.1zM1690.8 1108.79h4.1v33.08h-4.1zM1716.38 1171.37h4.1v6.78h-4.1zM1731.73 1412.12h4.1v10.36h-4.1zM1736.85 1186.92h4.1v84.9h-4.1zM1757.32 1144.27h4.1v34.68h-4.1zM1803.37 1278.59h4.1v9.96h-4.1zM1828.95 1107.99h4.1v29.5h-4.1zM1834.07 1107.99h4.1v21.92h-4.1zM1849.42 1435.24h4.1v2.79h-4.1zM1864.77 1244.71h4.1v1.59h-4.1zM1885.23 1189.71h4.1v60.19h-4.1zM1972.22 1110.38h4.1v14.75h-4.1z"/>
<path d="M175.1 1106.3V1504.4M331 1106.3V1504.4M405.4 1106.3V1504.4M571.8 1106.3V1504.4M926.5 1106.3V1504.4M1609.5 1106.3V1504.4" fill="none" stroke="#8a8a8a" stroke-width="1.5" stroke-dasharray="11.2 5.8"/>
<rect x="102" y="1105.3" width="1981" height="400.1" fill="none" stroke="#000" stroke-width="2"/>
<path d="M102 1504.6h-7M102 1424.88h-7M102 1345.16h-7M102 1265.44h-7M102 1185.72h-7M102 1106h-7" fill="none" stroke="#000" stroke-width="1.5"/>
<text x="90.7" y="1510.5" font-size="16.5" text-anchor="end">0</text>
<text x="90.7" y="1430.78" font-size="16.5" text-anchor="end">20</text>
<text x="90.7" y="1351.06" font-size="16.5" text-anchor="end">40</text>
<text x="90.7" y="1271.34" font-size="16.5" text-anchor="end">60</text>
<text x="90.7" y="1191.62" font-size="16.5" text-anchor="end">80</text>
<text x="90.7" y="1111.9" font-size="16.5" text-anchor="end">100</text>
<text x="40.5" y="1304" font-size="20.9" text-anchor="middle" transform="rotate(-90 40.5 1304)">Sample composition (%)</text>
<path d="M106.7 1523.3H172M180.2 1523.3H327.9M336.1 1523.3H401.4M409.9 1523.3H567.7M575.7 1523.3H922.5M930.9 1523.3H1605.7M1614 1523.3H2078.7" fill="none" stroke="#000" stroke-width="2.3"/>
<text x="129.8" y="1543.8" font-size="17.3" text-anchor="middle">First</text>
<text x="255.7" y="1543.8" font-size="17.3" text-anchor="middle">Second</text>
<text x="369.1" y="1543.8" font-size="17.3" text-anchor="middle">Pediatric</text>
<text x="490.3" y="1543.8" font-size="17.3" text-anchor="middle">Age 10–25</text>
<text x="759.1" y="1543.8" font-size="17.3" text-anchor="middle">Age 25–40</text>
<text x="1217.5" y="1543.8" font-size="17.3" text-anchor="middle">Age 40–60</text>
<text x="1895" y="1543.8" font-size="17.3" text-anchor="middle">Age 60+</text>
<text x="129.8" y="1564.7" font-size="17.3" text-anchor="middle">TM</text>
<text x="255.7" y="1564.7" font-size="17.3" text-anchor="middle">TM</text>
<text x="-1" y="676.7" font-size="42" font-weight="bold">b</text>
<rect x="99.4" y="1590.1" width="11" height="11" fill="#1f78b4"/>
<text x="119.2" y="1602.7" font-size="20.55">2 Airway epithelium</text>
<rect x="99.4" y="1612.1" width="11" height="11" fill="#b2df8a"/>
<text x="119.2" y="1624.7" font-size="20.55">2 Olfactory epithelium</text>
<rect x="339.6" y="1590.1" width="11" height="11" fill="#36a34a"/>
<text x="359.7" y="1602.7" font-size="20.55">2 Fetal airway progenitors</text>
<rect x="339.6" y="1612.1" width="11" height="11" fill="#f59a9b"/>
<text x="359.7" y="1624.7" font-size="20.55">AT1</text>
<rect x="633.9" y="1590.4" width="11" height="11" fill="#e21f26"/>
<text x="654.6" y="1603" font-size="20.55">AT2</text>
<rect x="633.9" y="1611.1" width="11" height="11" fill="#fcc073"/>
<text x="654.6" y="1623.7" font-size="20.55">Basal</text>
<rect x="731.9" y="1589" width="11" height="11" fill="#f58220"/>
<text x="753.4" y="1601.6" font-size="20.55">Multiciliated lineage</text>
<rect x="731.9" y="1610.9" width="11" height="11" fill="#c8b2d6"/>
<text x="753.4" y="1623.5" font-size="20.55">Secretory</text>
<rect x="982.2" y="1592" width="11" height="11" fill="#6a3d9a"/>
<text x="1003" y="1604.6" font-size="20.55">Submucosal secretory</text>
<rect x="982.2" y="1613.9" width="11" height="11" fill="#a9a9ad"/>
<text x="1003" y="1626.5" font-size="20.55">Other</text>
</svg>
</body></html>
